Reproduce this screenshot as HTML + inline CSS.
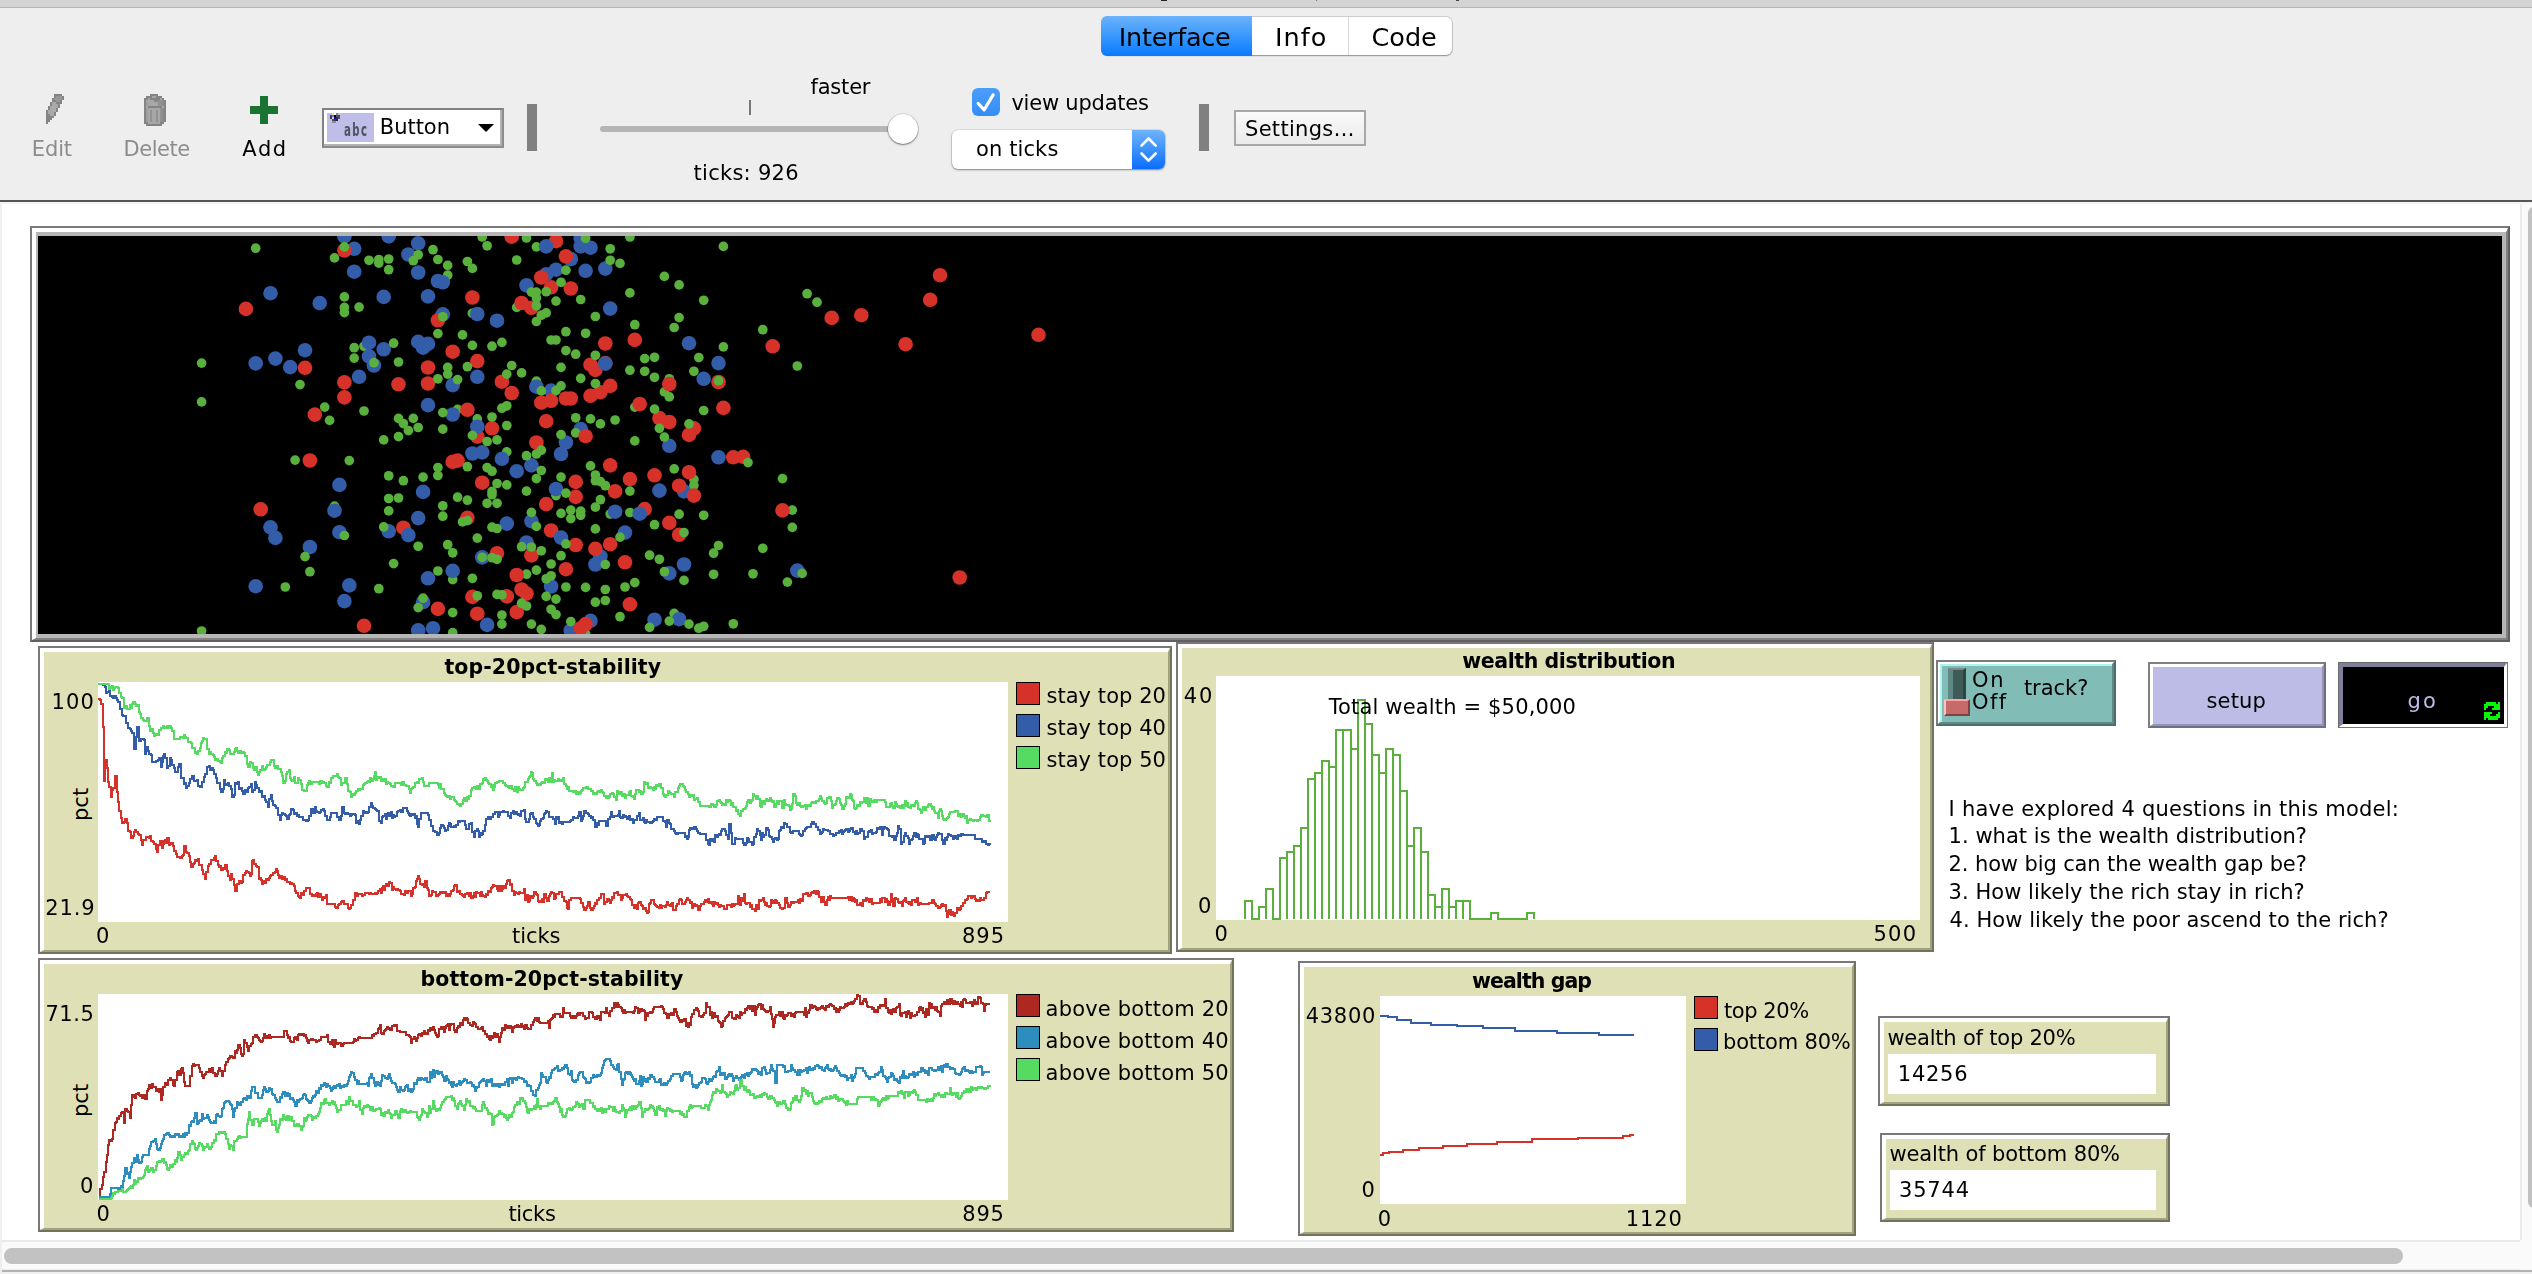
<!DOCTYPE html>
<html lang="en"><head><meta charset="utf-8"><title>Wealth distribution - NetLogo</title>
<style>
html,body{margin:0;padding:0;background:#fff;}
body{width:2532px;height:1274px;overflow:hidden;position:relative;font-family:"DejaVu Sans","Liberation Sans",sans-serif;}
.abs{position:absolute;box-sizing:border-box;}
.t{position:absolute;white-space:pre;line-height:0;font-size:21px;color:#000;}
.pw{border:2px solid;border-color:#787878 #73735a #73735a #787878;background:#e0e0b6;}
.pw .in{position:absolute;left:0;top:0;right:0;bottom:0;border-style:solid;border-width:4px 2px 2px 4px;border-color:#fff #a2a283 #a2a283 #fff;}
.lg{width:23.5px;height:23.5px;border:1.5px solid #000;}
.sep{background:#808080;width:10px;height:47px;top:104px;}
</style></head><body>
<!-- window chrome -->
<div class="abs" style="left:0;top:0;width:2532px;height:7px;background:#d3d3d3"></div>
<div class="abs" style="left:0;top:6.5px;width:2532px;height:1.5px;background:#b5b5b5"></div>
<div class="abs" style="left:0;top:8px;width:2532px;height:192px;background:#eeeeee"></div>
<div class="abs" style="left:0;top:200px;width:2532px;height:2px;background:#555"></div>
<div class="abs" style="left:0;top:202px;width:2532px;height:2px;background:#f4f4f4"></div>
<div class="abs" style="left:0;top:204px;width:2px;height:1070px;background:#efefef"></div>
<div class="abs" style="left:1161px;top:0;width:6px;height:1.2px;background:#222"></div><div class="abs" style="left:1315.5px;top:0;width:1.5px;height:1px;background:#777"></div><div class="abs" style="left:1456px;top:0;width:2.5px;height:1.2px;background:#444"></div>
<!-- tabs -->
<div class="abs" style="left:1101.5px;top:16.5px;width:350.5px;height:38.5px;border-radius:6px;background:#fff;box-shadow:0 1px 1.5px rgba(0,0,0,.3),0 0 0 1px rgba(0,0,0,.13)"></div>
<div class="abs" style="left:1101px;top:16px;width:151px;height:39.5px;border-radius:6px 0 0 6px;background:linear-gradient(#6cb3fa,#087bff)"></div>
<div class="abs" style="left:1347.5px;top:17px;width:1.5px;height:38px;background:#d9d9d9"></div>
<!-- toolbar icons -->
<svg class="abs" style="left:46px;top:94px" width="18" height="30" viewBox="0 0 9 15" shape-rendering="crispEdges"><rect x="4" y="0" width="4" height="1" fill="#848484"/><rect x="4" y="1" width="1" height="1" fill="#848484"/><rect x="5" y="1" width="3" height="1" fill="#979797"/><rect x="8" y="1" width="1" height="1" fill="#848484"/><rect x="3" y="2" width="1" height="1" fill="#848484"/><rect x="4" y="2" width="4" height="1" fill="#979797"/><rect x="8" y="2" width="1" height="1" fill="#848484"/><rect x="3" y="3" width="2" height="1" fill="#848484"/><rect x="5" y="3" width="2" height="1" fill="#979797"/><rect x="7" y="3" width="1" height="1" fill="#848484"/><rect x="2" y="4" width="1" height="1" fill="#848484"/><rect x="3" y="4" width="2" height="1" fill="#a9a9a9"/><rect x="5" y="4" width="3" height="1" fill="#848484"/><rect x="2" y="5" width="1" height="1" fill="#848484"/><rect x="3" y="5" width="3" height="1" fill="#a9a9a9"/><rect x="6" y="5" width="1" height="1" fill="#848484"/><rect x="1" y="6" width="1" height="1" fill="#848484"/><rect x="2" y="6" width="4" height="1" fill="#a9a9a9"/><rect x="6" y="6" width="1" height="1" fill="#848484"/><rect x="1" y="7" width="1" height="1" fill="#848484"/><rect x="2" y="7" width="3" height="1" fill="#a9a9a9"/><rect x="5" y="7" width="1" height="1" fill="#848484"/><rect x="0" y="8" width="1" height="1" fill="#848484"/><rect x="1" y="8" width="4" height="1" fill="#a9a9a9"/><rect x="5" y="8" width="1" height="1" fill="#848484"/><rect x="0" y="9" width="1" height="1" fill="#848484"/><rect x="1" y="9" width="3" height="1" fill="#a9a9a9"/><rect x="4" y="9" width="1" height="1" fill="#848484"/><rect x="0" y="10" width="2" height="1" fill="#848484"/><rect x="2" y="10" width="2" height="1" fill="#a9a9a9"/><rect x="4" y="10" width="1" height="1" fill="#848484"/><rect x="0" y="11" width="4" height="1" fill="#848484"/><rect x="0" y="12" width="3" height="1" fill="#848484"/><rect x="0" y="13" width="2" height="1" fill="#848484"/><rect x="0" y="14" width="1" height="1" fill="#848484"/></svg>
<svg class="abs" style="left:144px;top:94px" width="22" height="32" viewBox="0 0 11 16" shape-rendering="crispEdges"><rect x="3" y="0" width="4" height="1" fill="#848484"/><rect x="1" y="1" width="3" height="1" fill="#848484"/><rect x="4" y="1" width="2" height="1" fill="#a7a7a7"/><rect x="6" y="1" width="3" height="1" fill="#848484"/><rect x="0" y="2" width="2" height="1" fill="#848484"/><rect x="2" y="2" width="1" height="1" fill="#a7a7a7"/><rect x="3" y="2" width="5" height="1" fill="#848484"/><rect x="8" y="2" width="1" height="1" fill="#a7a7a7"/><rect x="9" y="2" width="1" height="1" fill="#848484"/><rect x="0" y="3" width="1" height="1" fill="#848484"/><rect x="1" y="3" width="4" height="1" fill="#a7a7a7"/><rect x="5" y="3" width="2" height="1" fill="#848484"/><rect x="7" y="3" width="2" height="1" fill="#929292"/><rect x="9" y="3" width="1" height="1" fill="#8c8c8c"/><rect x="10" y="3" width="1" height="1" fill="#848484"/><rect x="0" y="4" width="1" height="1" fill="#848484"/><rect x="1" y="4" width="1" height="1" fill="#9d9d9d"/><rect x="2" y="4" width="5" height="1" fill="#a7a7a7"/><rect x="7" y="4" width="2" height="1" fill="#929292"/><rect x="9" y="4" width="1" height="1" fill="#8c8c8c"/><rect x="10" y="4" width="1" height="1" fill="#848484"/><rect x="0" y="5" width="1" height="1" fill="#848484"/><rect x="1" y="5" width="1" height="1" fill="#9d9d9d"/><rect x="2" y="5" width="5" height="1" fill="#a7a7a7"/><rect x="7" y="5" width="2" height="1" fill="#929292"/><rect x="9" y="5" width="1" height="1" fill="#8c8c8c"/><rect x="10" y="5" width="1" height="1" fill="#848484"/><rect x="0" y="6" width="1" height="1" fill="#848484"/><rect x="1" y="6" width="1" height="1" fill="#a7a7a7"/><rect x="2" y="6" width="7" height="1" fill="#848484"/><rect x="9" y="6" width="1" height="1" fill="#a7a7a7"/><rect x="10" y="6" width="1" height="1" fill="#848484"/><rect x="0" y="7" width="1" height="1" fill="#848484"/><rect x="1" y="7" width="1" height="1" fill="#9d9d9d"/><rect x="2" y="7" width="6" height="1" fill="#a7a7a7"/><rect x="8" y="7" width="1" height="1" fill="#929292"/><rect x="9" y="7" width="1" height="1" fill="#8c8c8c"/><rect x="10" y="7" width="1" height="1" fill="#848484"/><rect x="0" y="8" width="1" height="1" fill="#848484"/><rect x="1" y="8" width="1" height="1" fill="#9d9d9d"/><rect x="2" y="8" width="1" height="1" fill="#a7a7a7"/><rect x="3" y="8" width="1" height="1" fill="#929292"/><rect x="4" y="8" width="2" height="1" fill="#a7a7a7"/><rect x="6" y="8" width="1" height="1" fill="#929292"/><rect x="7" y="8" width="1" height="1" fill="#a7a7a7"/><rect x="8" y="8" width="1" height="1" fill="#929292"/><rect x="9" y="8" width="1" height="1" fill="#8c8c8c"/><rect x="10" y="8" width="1" height="1" fill="#848484"/><rect x="0" y="9" width="1" height="1" fill="#848484"/><rect x="1" y="9" width="1" height="1" fill="#9d9d9d"/><rect x="2" y="9" width="1" height="1" fill="#a7a7a7"/><rect x="3" y="9" width="1" height="1" fill="#929292"/><rect x="4" y="9" width="2" height="1" fill="#a7a7a7"/><rect x="6" y="9" width="1" height="1" fill="#929292"/><rect x="7" y="9" width="1" height="1" fill="#a7a7a7"/><rect x="8" y="9" width="1" height="1" fill="#929292"/><rect x="9" y="9" width="1" height="1" fill="#8c8c8c"/><rect x="10" y="9" width="1" height="1" fill="#848484"/><rect x="0" y="10" width="1" height="1" fill="#848484"/><rect x="1" y="10" width="1" height="1" fill="#9d9d9d"/><rect x="2" y="10" width="1" height="1" fill="#a7a7a7"/><rect x="3" y="10" width="1" height="1" fill="#929292"/><rect x="4" y="10" width="2" height="1" fill="#a7a7a7"/><rect x="6" y="10" width="1" height="1" fill="#929292"/><rect x="7" y="10" width="1" height="1" fill="#a7a7a7"/><rect x="8" y="10" width="1" height="1" fill="#929292"/><rect x="9" y="10" width="1" height="1" fill="#8c8c8c"/><rect x="10" y="10" width="1" height="1" fill="#848484"/><rect x="0" y="11" width="1" height="1" fill="#848484"/><rect x="1" y="11" width="1" height="1" fill="#9d9d9d"/><rect x="2" y="11" width="1" height="1" fill="#a7a7a7"/><rect x="3" y="11" width="1" height="1" fill="#929292"/><rect x="4" y="11" width="2" height="1" fill="#a7a7a7"/><rect x="6" y="11" width="1" height="1" fill="#929292"/><rect x="7" y="11" width="1" height="1" fill="#a7a7a7"/><rect x="8" y="11" width="1" height="1" fill="#929292"/><rect x="9" y="11" width="1" height="1" fill="#8c8c8c"/><rect x="10" y="11" width="1" height="1" fill="#848484"/><rect x="0" y="12" width="1" height="1" fill="#848484"/><rect x="1" y="12" width="1" height="1" fill="#9d9d9d"/><rect x="2" y="12" width="1" height="1" fill="#a7a7a7"/><rect x="3" y="12" width="1" height="1" fill="#929292"/><rect x="4" y="12" width="2" height="1" fill="#a7a7a7"/><rect x="6" y="12" width="1" height="1" fill="#929292"/><rect x="7" y="12" width="1" height="1" fill="#a7a7a7"/><rect x="8" y="12" width="1" height="1" fill="#929292"/><rect x="9" y="12" width="1" height="1" fill="#8c8c8c"/><rect x="10" y="12" width="1" height="1" fill="#848484"/><rect x="0" y="13" width="1" height="1" fill="#848484"/><rect x="1" y="13" width="1" height="1" fill="#9d9d9d"/><rect x="2" y="13" width="1" height="1" fill="#a7a7a7"/><rect x="3" y="13" width="1" height="1" fill="#929292"/><rect x="4" y="13" width="2" height="1" fill="#a7a7a7"/><rect x="6" y="13" width="1" height="1" fill="#929292"/><rect x="7" y="13" width="1" height="1" fill="#a7a7a7"/><rect x="8" y="13" width="1" height="1" fill="#929292"/><rect x="9" y="13" width="1" height="1" fill="#8c8c8c"/><rect x="10" y="13" width="1" height="1" fill="#848484"/><rect x="0" y="14" width="2" height="1" fill="#848484"/><rect x="2" y="14" width="6" height="1" fill="#a7a7a7"/><rect x="8" y="14" width="2" height="1" fill="#848484"/><rect x="1" y="15" width="8" height="1" fill="#848484"/></svg>
<svg class="abs" style="left:250px;top:96px" width="28" height="28" viewBox="0 0 28 28"><path d="M10 0h8v10h10v8H18v10h-8V18H0v-8h10z" fill="#1a7431"/></svg>
<!-- widget chooser -->
<div class="abs" style="left:322px;top:108px;width:182px;height:40px;background:#fff;border:2px solid;border-color:#828282 #8c8c8c #8c8c8c #828282"><div class="abs" style="left:0;top:0;right:0;bottom:0;border:solid;border-width:0 2px 2px 0;border-color:#b4b4b4"></div></div>
<div class="abs" style="left:327px;top:113px;width:47px;height:29px;background:#bebee8"></div>
<svg class="abs" style="left:330px;top:113.3px" width="10" height="10" viewBox="0 0 5 5" shape-rendering="crispEdges"><rect x="1" y="0" width="1" height="1" fill="#d8d8c0"/><rect x="2" y="0" width="1" height="1" fill="#ffffff"/><rect x="3" y="0" width="1" height="1" fill="#8a8a78"/><rect x="0" y="1" width="1" height="1" fill="#4a4a38"/><rect x="1" y="1" width="1" height="1" fill="#6a7af0"/><rect x="2" y="1" width="1" height="1" fill="#000000"/><rect x="3" y="1" width="1" height="1" fill="#555560"/><rect x="4" y="1" width="1" height="1" fill="#4a4a55"/><rect x="0" y="2" width="1" height="1" fill="#3a3a2a"/><rect x="1" y="2" width="1" height="1" fill="#d0d0e8"/><rect x="2" y="2" width="1" height="1" fill="#0000c8"/><rect x="3" y="2" width="1" height="1" fill="#2a2a78"/><rect x="4" y="2" width="1" height="1" fill="#50505a"/><rect x="1" y="3" width="1" height="1" fill="#55553a"/><rect x="2" y="3" width="1" height="1" fill="#3a3a48"/><rect x="3" y="3" width="1" height="1" fill="#20206a"/><rect x="1" y="4" width="2" height="1" fill="#8a8aa0"/></svg>
<span class="t" style="left:343.6px;top:129.9px;font-size:17.5px;font-weight:bold;color:#50505f;letter-spacing:2.5px;transform:scaleX(.58);transform-origin:0 0;will-change:transform">abc</span>
<svg class="abs" style="left:478px;top:124px" width="16" height="8" viewBox="0 0 16 8"><path d="M0 0h16L8 8z" fill="#000"/></svg>
<div class="abs sep" style="left:527px"></div>
<div class="abs sep" style="left:1199px"></div>
<!-- speed slider -->
<div class="abs" style="left:600px;top:126px;width:292px;height:6px;background:#b5b5b5;border-radius:3px"></div>
<div class="abs" style="left:749px;top:100px;width:2px;height:14.5px;background:#787878"></div>
<div class="abs" style="left:888px;top:113.5px;width:30px;height:30px;border-radius:50%;background:#fff;box-shadow:0 1px 2px rgba(0,0,0,.45),0 0 0 .5px rgba(0,0,0,.2)"></div>
<!-- checkbox -->
<div class="abs" style="left:972px;top:88px;width:28px;height:28px;border-radius:6px;background:linear-gradient(#4b9ffa,#348cf6)"></div>
<svg class="abs" style="left:972px;top:88px" width="28" height="28" viewBox="0 0 28 28"><path d="M6.2 15.5l6 6.3 8.9-14.9" fill="none" stroke="#fff" stroke-width="3.2" stroke-linecap="round" stroke-linejoin="round"/></svg>
<!-- select -->
<div class="abs" style="left:952px;top:129.5px;width:213px;height:39px;border-radius:6px;background:#fff;box-shadow:0 1px 2px rgba(0,0,0,.4),0 0 0 .5px rgba(0,0,0,.15)"></div>
<div class="abs" style="left:1132px;top:129.5px;width:33px;height:39px;border-radius:0 6px 6px 0;background:linear-gradient(#6fb4fb,#0a6efd)"></div>
<svg class="abs" style="left:1132px;top:129.5px" width="33" height="39" viewBox="0 0 33 39"><path d="M9.5 15.7l7-7.2 7.2 7.2M9.5 23.5l7 7.2 7.2-7.2" fill="none" stroke="#fff" stroke-width="2.6" stroke-linecap="round" stroke-linejoin="round"/></svg>
<!-- settings -->
<div class="abs" style="left:1234px;top:110px;width:132px;height:36px;border:2px solid #a8a8a8;background:linear-gradient(#fafafa,#ebebeb)"></div>

<!-- view -->
<div class="abs" style="left:30px;top:226px;width:2480px;height:416px;background:#b6b6b6;border:2px solid;border-color:#7a7a7a #606060 #606060 #7a7a7a"></div>
<div class="abs" style="left:32px;top:228px;width:2476px;height:412px;border-style:solid;border-width:4px 2px 2px 4px;border-color:#fff #818181 #818181 #fff"></div>
<div class="abs" style="left:38px;top:236px;width:2464px;height:398px;background:#000"></div>
<svg class="abs" style="left:38px;top:236px" width="2464" height="398" viewBox="0 0 2464 398"><g fill="#d73229"><circle cx="567.3" cy="127.1" r="7.3"/></g><g fill="#345da9"><circle cx="316.2" cy="12.8" r="7.3"/><circle cx="532.8" cy="23.0" r="7.3"/><circle cx="508.2" cy="38.4" r="7.3"/><circle cx="518.0" cy="33.7" r="7.3"/><circle cx="404.8" cy="78.4" r="7.3"/><circle cx="513.1" cy="154.6" r="7.3"/><circle cx="542.7" cy="193.1" r="7.3"/><circle cx="562.4" cy="320.5" r="7.3"/><circle cx="552.5" cy="384.8" r="7.3"/><circle cx="532.8" cy="394.4" r="7.3"/><circle cx="646.0" cy="255.4" r="7.3"/></g><g fill="#59b03c"><circle cx="326.0" cy="110.2" r="4.85"/><circle cx="409.7" cy="39.2" r="4.85"/><circle cx="478.7" cy="71.4" r="4.85"/><circle cx="434.4" cy="77.3" r="4.85"/><circle cx="498.4" cy="145.2" r="4.85"/><circle cx="419.6" cy="173.4" r="4.85"/><circle cx="439.3" cy="182.9" r="4.85"/><circle cx="631.3" cy="142.8" r="4.85"/><circle cx="626.4" cy="155.9" r="4.85"/><circle cx="596.8" cy="171.1" r="4.85"/><circle cx="296.5" cy="270.1" r="4.85"/><circle cx="537.7" cy="196.9" r="4.85"/><circle cx="468.8" cy="215.9" r="4.85"/><circle cx="518.0" cy="259.6" r="4.85"/><circle cx="572.2" cy="278.0" r="4.85"/><circle cx="488.5" cy="338.2" r="4.85"/><circle cx="414.7" cy="343.6" r="4.85"/><circle cx="547.6" cy="397.7" r="4.85"/><circle cx="655.9" cy="243.4" r="4.85"/><circle cx="655.9" cy="249.4" r="4.85"/><circle cx="754.3" cy="274.1" r="4.85"/><circle cx="636.2" cy="377.4" r="4.85"/></g><g fill="#d73229"><circle cx="306.4" cy="14.5" r="7.3"/><circle cx="207.9" cy="72.9" r="7.3"/><circle cx="267.0" cy="131.8" r="7.3"/><circle cx="306.4" cy="146.4" r="7.3"/><circle cx="306.4" cy="161.4" r="7.3"/><circle cx="360.5" cy="148.3" r="7.3"/><circle cx="276.8" cy="178.6" r="7.3"/><circle cx="473.7" cy="0.7" r="7.3"/><circle cx="518.0" cy="5.1" r="7.3"/><circle cx="527.9" cy="20.3" r="7.3"/><circle cx="503.3" cy="41.5" r="7.3"/><circle cx="513.1" cy="51.3" r="7.3"/><circle cx="532.8" cy="52.5" r="7.3"/><circle cx="483.6" cy="67.0" r="7.3"/><circle cx="493.4" cy="71.8" r="7.3"/><circle cx="434.4" cy="61.5" r="7.3"/><circle cx="399.9" cy="84.3" r="7.3"/><circle cx="414.7" cy="115.7" r="7.3"/><circle cx="439.3" cy="125.1" r="7.3"/><circle cx="390.0" cy="131.5" r="7.3"/><circle cx="390.0" cy="147.5" r="7.3"/><circle cx="463.9" cy="145.7" r="7.3"/><circle cx="473.7" cy="157.0" r="7.3"/><circle cx="567.3" cy="107.5" r="7.3"/><circle cx="552.5" cy="128.7" r="7.3"/><circle cx="557.4" cy="133.9" r="7.3"/><circle cx="572.2" cy="149.9" r="7.3"/><circle cx="562.4" cy="156.2" r="7.3"/><circle cx="552.5" cy="159.8" r="7.3"/><circle cx="503.3" cy="166.7" r="7.3"/><circle cx="513.1" cy="164.8" r="7.3"/><circle cx="527.9" cy="162.5" r="7.3"/><circle cx="532.8" cy="162.5" r="7.3"/><circle cx="429.4" cy="173.8" r="7.3"/><circle cx="454.0" cy="192.3" r="7.3"/><circle cx="508.2" cy="185.2" r="7.3"/><circle cx="596.8" cy="103.9" r="7.3"/><circle cx="680.5" cy="146.0" r="7.3"/><circle cx="631.3" cy="148.0" r="7.3"/><circle cx="601.7" cy="168.0" r="7.3"/><circle cx="685.4" cy="171.9" r="7.3"/><circle cx="621.4" cy="182.1" r="7.3"/><circle cx="631.3" cy="186.0" r="7.3"/><circle cx="655.9" cy="192.3" r="7.3"/><circle cx="734.7" cy="110.3" r="7.3"/><circle cx="902.0" cy="39.2" r="7.3"/><circle cx="892.2" cy="63.8" r="7.3"/><circle cx="793.7" cy="81.9" r="7.3"/><circle cx="823.3" cy="79.2" r="7.3"/><circle cx="867.6" cy="108.2" r="7.3"/><circle cx="1000.5" cy="98.8" r="7.3"/><circle cx="271.9" cy="224.5" r="7.3"/><circle cx="222.7" cy="273.3" r="7.3"/><circle cx="365.4" cy="291.7" r="7.3"/><circle cx="326.0" cy="389.8" r="7.3"/><circle cx="439.3" cy="200.6" r="7.3"/><circle cx="547.6" cy="200.2" r="7.3"/><circle cx="498.4" cy="206.5" r="7.3"/><circle cx="414.7" cy="225.8" r="7.3"/><circle cx="419.6" cy="224.6" r="7.3"/><circle cx="572.2" cy="229.4" r="7.3"/><circle cx="537.7" cy="245.9" r="7.3"/><circle cx="444.2" cy="246.7" r="7.3"/><circle cx="537.7" cy="260.9" r="7.3"/><circle cx="577.1" cy="255.4" r="7.3"/><circle cx="508.2" cy="268.1" r="7.3"/><circle cx="429.4" cy="281.8" r="7.3"/><circle cx="513.1" cy="294.5" r="7.3"/><circle cx="537.7" cy="309.0" r="7.3"/><circle cx="572.2" cy="308.2" r="7.3"/><circle cx="557.4" cy="312.8" r="7.3"/><circle cx="493.4" cy="319.4" r="7.3"/><circle cx="459.0" cy="317.2" r="7.3"/><circle cx="527.9" cy="333.2" r="7.3"/><circle cx="478.7" cy="339.0" r="7.3"/><circle cx="483.6" cy="353.5" r="7.3"/><circle cx="488.5" cy="357.6" r="7.3"/><circle cx="434.4" cy="360.9" r="7.3"/><circle cx="468.8" cy="360.4" r="7.3"/><circle cx="399.9" cy="372.9" r="7.3"/><circle cx="439.3" cy="377.7" r="7.3"/><circle cx="478.7" cy="376.1" r="7.3"/><circle cx="547.6" cy="388.1" r="7.3"/><circle cx="542.7" cy="392.2" r="7.3"/><circle cx="651.0" cy="198.9" r="7.3"/><circle cx="695.3" cy="221.3" r="7.3"/><circle cx="705.1" cy="220.8" r="7.3"/><circle cx="651.0" cy="236.2" r="7.3"/><circle cx="616.5" cy="239.3" r="7.3"/><circle cx="591.9" cy="243.1" r="7.3"/><circle cx="641.1" cy="249.7" r="7.3"/><circle cx="655.9" cy="259.6" r="7.3"/><circle cx="606.7" cy="273.1" r="7.3"/><circle cx="631.3" cy="286.8" r="7.3"/><circle cx="641.1" cy="298.8" r="7.3"/><circle cx="744.5" cy="274.4" r="7.3"/><circle cx="587.0" cy="326.3" r="7.3"/><circle cx="591.9" cy="368.3" r="7.3"/><circle cx="921.7" cy="341.5" r="7.3"/></g><g fill="#345da9"><circle cx="306.4" cy="0.4" r="7.3"/><circle cx="350.7" cy="0.4" r="7.3"/><circle cx="316.2" cy="35.7" r="7.3"/><circle cx="232.5" cy="57.2" r="7.3"/><circle cx="281.7" cy="67.1" r="7.3"/><circle cx="345.7" cy="60.9" r="7.3"/><circle cx="331.0" cy="106.7" r="7.3"/><circle cx="345.7" cy="113.3" r="7.3"/><circle cx="331.0" cy="120.4" r="7.3"/><circle cx="335.9" cy="129.5" r="7.3"/><circle cx="267.0" cy="114.2" r="7.3"/><circle cx="237.4" cy="122.6" r="7.3"/><circle cx="217.7" cy="127.4" r="7.3"/><circle cx="252.2" cy="131.1" r="7.3"/><circle cx="321.1" cy="140.8" r="7.3"/><circle cx="380.2" cy="7.3" r="7.3"/><circle cx="370.4" cy="18.5" r="7.3"/><circle cx="380.2" cy="36.5" r="7.3"/><circle cx="399.9" cy="45.0" r="7.3"/><circle cx="404.8" cy="46.3" r="7.3"/><circle cx="542.7" cy="2.6" r="7.3"/><circle cx="542.7" cy="10.4" r="7.3"/><circle cx="552.5" cy="11.7" r="7.3"/><circle cx="567.3" cy="32.6" r="7.3"/><circle cx="547.6" cy="34.8" r="7.3"/><circle cx="488.5" cy="49.4" r="7.3"/><circle cx="572.2" cy="72.6" r="7.3"/><circle cx="390.0" cy="60.4" r="7.3"/><circle cx="439.3" cy="78.0" r="7.3"/><circle cx="459.0" cy="84.7" r="7.3"/><circle cx="380.2" cy="105.9" r="7.3"/><circle cx="390.0" cy="107.8" r="7.3"/><circle cx="385.1" cy="111.7" r="7.3"/><circle cx="439.3" cy="140.8" r="7.3"/><circle cx="414.7" cy="149.1" r="7.3"/><circle cx="567.3" cy="127.6" r="7.3"/><circle cx="498.4" cy="150.7" r="7.3"/><circle cx="390.0" cy="169.1" r="7.3"/><circle cx="414.7" cy="178.5" r="7.3"/><circle cx="439.3" cy="190.7" r="7.3"/><circle cx="651.0" cy="107.2" r="7.3"/><circle cx="680.5" cy="127.1" r="7.3"/><circle cx="665.7" cy="142.8" r="7.3"/><circle cx="301.4" cy="248.9" r="7.3"/><circle cx="296.5" cy="274.7" r="7.3"/><circle cx="232.5" cy="291.4" r="7.3"/><circle cx="237.4" cy="301.9" r="7.3"/><circle cx="301.4" cy="296.2" r="7.3"/><circle cx="350.7" cy="295.3" r="7.3"/><circle cx="271.9" cy="311.0" r="7.3"/><circle cx="217.7" cy="350.2" r="7.3"/><circle cx="311.3" cy="349.4" r="7.3"/><circle cx="306.4" cy="365.1" r="7.3"/><circle cx="527.9" cy="206.5" r="7.3"/><circle cx="523.0" cy="218.0" r="7.3"/><circle cx="463.9" cy="222.8" r="7.3"/><circle cx="434.4" cy="217.5" r="7.3"/><circle cx="444.2" cy="216.4" r="7.3"/><circle cx="478.7" cy="235.2" r="7.3"/><circle cx="493.4" cy="229.4" r="7.3"/><circle cx="518.0" cy="253.0" r="7.3"/><circle cx="385.1" cy="255.9" r="7.3"/><circle cx="577.1" cy="275.7" r="7.3"/><circle cx="493.4" cy="285.1" r="7.3"/><circle cx="380.2" cy="282.1" r="7.3"/><circle cx="468.8" cy="287.6" r="7.3"/><circle cx="523.0" cy="301.6" r="7.3"/><circle cx="488.5" cy="306.5" r="7.3"/><circle cx="444.2" cy="321.4" r="7.3"/><circle cx="557.4" cy="328.5" r="7.3"/><circle cx="414.7" cy="334.9" r="7.3"/><circle cx="390.0" cy="342.3" r="7.3"/><circle cx="513.1" cy="350.5" r="7.3"/><circle cx="385.1" cy="366.2" r="7.3"/><circle cx="449.1" cy="388.9" r="7.3"/><circle cx="380.2" cy="394.4" r="7.3"/><circle cx="395.0" cy="392.2" r="7.3"/><circle cx="631.3" cy="209.8" r="7.3"/><circle cx="680.5" cy="221.3" r="7.3"/><circle cx="621.4" cy="254.6" r="7.3"/><circle cx="587.0" cy="296.6" r="7.3"/><circle cx="646.0" cy="328.5" r="7.3"/><circle cx="631.3" cy="337.4" r="7.3"/><circle cx="759.3" cy="334.6" r="7.3"/><circle cx="616.5" cy="383.7" r="7.3"/><circle cx="641.1" cy="383.2" r="7.3"/></g><g fill="#59b03c"><circle cx="217.7" cy="12.2" r="4.85"/><circle cx="296.5" cy="21.9" r="4.85"/><circle cx="331.0" cy="24.3" r="4.85"/><circle cx="340.8" cy="23.5" r="4.85"/><circle cx="340.8" cy="27.1" r="4.85"/><circle cx="350.7" cy="23.0" r="4.85"/><circle cx="350.7" cy="33.7" r="4.85"/><circle cx="306.4" cy="60.9" r="4.85"/><circle cx="306.4" cy="71.4" r="4.85"/><circle cx="306.4" cy="76.6" r="4.85"/><circle cx="321.1" cy="71.1" r="4.85"/><circle cx="316.2" cy="111.7" r="4.85"/><circle cx="355.6" cy="107.2" r="4.85"/><circle cx="316.2" cy="122.1" r="4.85"/><circle cx="360.5" cy="126.0" r="4.85"/><circle cx="163.6" cy="127.1" r="4.85"/><circle cx="262.0" cy="148.6" r="4.85"/><circle cx="163.6" cy="165.9" r="4.85"/><circle cx="286.7" cy="171.1" r="4.85"/><circle cx="291.6" cy="184.4" r="4.85"/><circle cx="326.0" cy="175.0" r="4.85"/><circle cx="360.5" cy="182.4" r="4.85"/><circle cx="365.4" cy="187.6" r="4.85"/><circle cx="370.4" cy="194.6" r="4.85"/><circle cx="395.0" cy="13.7" r="4.85"/><circle cx="399.9" cy="23.5" r="4.85"/><circle cx="409.7" cy="29.4" r="4.85"/><circle cx="444.2" cy="1.0" r="4.85"/><circle cx="449.1" cy="9.8" r="4.85"/><circle cx="429.4" cy="25.5" r="4.85"/><circle cx="434.4" cy="32.4" r="4.85"/><circle cx="488.5" cy="2.0" r="4.85"/><circle cx="478.7" cy="24.0" r="4.85"/><circle cx="498.4" cy="10.9" r="4.85"/><circle cx="572.2" cy="12.8" r="4.85"/><circle cx="572.2" cy="24.3" r="4.85"/><circle cx="582.0" cy="27.4" r="4.85"/><circle cx="527.9" cy="34.2" r="4.85"/><circle cx="518.0" cy="65.1" r="4.85"/><circle cx="542.7" cy="63.5" r="4.85"/><circle cx="508.2" cy="76.9" r="4.85"/><circle cx="503.3" cy="79.2" r="4.85"/><circle cx="498.4" cy="85.5" r="4.85"/><circle cx="557.4" cy="80.5" r="4.85"/><circle cx="399.9" cy="97.6" r="4.85"/><circle cx="424.5" cy="98.9" r="4.85"/><circle cx="434.4" cy="109.4" r="4.85"/><circle cx="454.0" cy="110.2" r="4.85"/><circle cx="463.9" cy="106.4" r="4.85"/><circle cx="429.4" cy="130.7" r="4.85"/><circle cx="409.7" cy="131.4" r="4.85"/><circle cx="409.7" cy="138.1" r="4.85"/><circle cx="399.9" cy="142.8" r="4.85"/><circle cx="473.7" cy="129.5" r="4.85"/><circle cx="483.6" cy="136.9" r="4.85"/><circle cx="527.9" cy="95.7" r="4.85"/><circle cx="547.6" cy="97.3" r="4.85"/><circle cx="513.1" cy="104.0" r="4.85"/><circle cx="518.0" cy="104.0" r="4.85"/><circle cx="527.9" cy="114.6" r="4.85"/><circle cx="537.7" cy="118.2" r="4.85"/><circle cx="557.4" cy="119.3" r="4.85"/><circle cx="523.0" cy="131.4" r="4.85"/><circle cx="542.7" cy="142.4" r="4.85"/><circle cx="557.4" cy="147.5" r="4.85"/><circle cx="523.0" cy="149.9" r="4.85"/><circle cx="518.0" cy="154.6" r="4.85"/><circle cx="404.8" cy="176.6" r="4.85"/><circle cx="468.8" cy="169.8" r="4.85"/><circle cx="463.9" cy="172.2" r="4.85"/><circle cx="375.3" cy="182.4" r="4.85"/><circle cx="380.2" cy="191.5" r="4.85"/><circle cx="404.8" cy="193.1" r="4.85"/><circle cx="454.0" cy="181.0" r="4.85"/><circle cx="468.8" cy="189.5" r="4.85"/><circle cx="537.7" cy="181.8" r="4.85"/><circle cx="552.5" cy="182.9" r="4.85"/><circle cx="562.4" cy="187.9" r="4.85"/><circle cx="577.1" cy="184.0" r="4.85"/><circle cx="591.9" cy="1.0" r="4.85"/><circle cx="626.4" cy="40.4" r="4.85"/><circle cx="641.1" cy="48.9" r="4.85"/><circle cx="591.9" cy="56.9" r="4.85"/><circle cx="665.7" cy="64.3" r="4.85"/><circle cx="685.4" cy="10.4" r="4.85"/><circle cx="641.1" cy="81.6" r="4.85"/><circle cx="636.2" cy="91.5" r="4.85"/><circle cx="596.8" cy="88.7" r="4.85"/><circle cx="685.4" cy="110.9" r="4.85"/><circle cx="606.7" cy="122.6" r="4.85"/><circle cx="616.5" cy="121.3" r="4.85"/><circle cx="660.8" cy="121.6" r="4.85"/><circle cx="591.9" cy="134.2" r="4.85"/><circle cx="606.7" cy="135.3" r="4.85"/><circle cx="616.5" cy="141.3" r="4.85"/><circle cx="655.9" cy="135.3" r="4.85"/><circle cx="631.3" cy="160.9" r="4.85"/><circle cx="616.5" cy="173.1" r="4.85"/><circle cx="665.7" cy="174.5" r="4.85"/><circle cx="621.4" cy="192.3" r="4.85"/><circle cx="769.1" cy="57.7" r="4.85"/><circle cx="779.0" cy="66.2" r="4.85"/><circle cx="724.8" cy="93.7" r="4.85"/><circle cx="759.3" cy="130.0" r="4.85"/><circle cx="360.5" cy="200.6" r="4.85"/><circle cx="345.7" cy="203.9" r="4.85"/><circle cx="257.1" cy="224.1" r="4.85"/><circle cx="311.3" cy="224.6" r="4.85"/><circle cx="350.7" cy="239.8" r="4.85"/><circle cx="365.4" cy="244.7" r="4.85"/><circle cx="350.7" cy="262.5" r="4.85"/><circle cx="360.5" cy="262.0" r="4.85"/><circle cx="350.7" cy="274.9" r="4.85"/><circle cx="271.9" cy="335.7" r="4.85"/><circle cx="355.6" cy="327.6" r="4.85"/><circle cx="247.3" cy="351.0" r="4.85"/><circle cx="340.8" cy="352.7" r="4.85"/><circle cx="163.6" cy="395.0" r="4.85"/><circle cx="449.1" cy="205.5" r="4.85"/><circle cx="459.0" cy="203.9" r="4.85"/><circle cx="523.0" cy="198.6" r="4.85"/><circle cx="488.5" cy="219.7" r="4.85"/><circle cx="429.4" cy="230.7" r="4.85"/><circle cx="399.9" cy="231.6" r="4.85"/><circle cx="399.9" cy="239.5" r="4.85"/><circle cx="385.1" cy="241.1" r="4.85"/><circle cx="449.1" cy="231.6" r="4.85"/><circle cx="454.0" cy="235.2" r="4.85"/><circle cx="503.3" cy="234.5" r="4.85"/><circle cx="498.4" cy="242.6" r="4.85"/><circle cx="523.0" cy="241.1" r="4.85"/><circle cx="552.5" cy="229.9" r="4.85"/><circle cx="557.4" cy="239.0" r="4.85"/><circle cx="557.4" cy="244.7" r="4.85"/><circle cx="562.4" cy="245.6" r="4.85"/><circle cx="567.3" cy="249.7" r="4.85"/><circle cx="459.0" cy="247.5" r="4.85"/><circle cx="468.8" cy="248.9" r="4.85"/><circle cx="454.0" cy="255.4" r="4.85"/><circle cx="454.0" cy="258.7" r="4.85"/><circle cx="449.1" cy="267.3" r="4.85"/><circle cx="459.0" cy="267.3" r="4.85"/><circle cx="488.5" cy="255.1" r="4.85"/><circle cx="419.6" cy="261.2" r="4.85"/><circle cx="429.4" cy="264.2" r="4.85"/><circle cx="404.8" cy="269.8" r="4.85"/><circle cx="404.8" cy="280.2" r="4.85"/><circle cx="562.4" cy="263.7" r="4.85"/><circle cx="557.4" cy="271.1" r="4.85"/><circle cx="523.0" cy="277.4" r="4.85"/><circle cx="532.8" cy="274.1" r="4.85"/><circle cx="532.8" cy="282.6" r="4.85"/><circle cx="542.7" cy="275.2" r="4.85"/><circle cx="542.7" cy="279.3" r="4.85"/><circle cx="454.0" cy="291.2" r="4.85"/><circle cx="459.0" cy="292.5" r="4.85"/><circle cx="439.3" cy="302.1" r="4.85"/><circle cx="557.4" cy="292.9" r="4.85"/><circle cx="380.2" cy="310.3" r="4.85"/><circle cx="409.7" cy="308.7" r="4.85"/><circle cx="414.7" cy="316.8" r="4.85"/><circle cx="503.3" cy="314.8" r="4.85"/><circle cx="523.0" cy="319.7" r="4.85"/><circle cx="513.1" cy="328.0" r="4.85"/><circle cx="498.4" cy="334.1" r="4.85"/><circle cx="399.9" cy="335.0" r="4.85"/><circle cx="434.4" cy="342.3" r="4.85"/><circle cx="513.1" cy="339.8" r="4.85"/><circle cx="508.2" cy="342.8" r="4.85"/><circle cx="527.9" cy="351.0" r="4.85"/><circle cx="547.6" cy="351.4" r="4.85"/><circle cx="567.3" cy="353.5" r="4.85"/><circle cx="508.2" cy="360.4" r="4.85"/><circle cx="518.0" cy="363.1" r="4.85"/><circle cx="557.4" cy="366.2" r="4.85"/><circle cx="567.3" cy="364.5" r="4.85"/><circle cx="414.7" cy="376.6" r="4.85"/><circle cx="463.9" cy="379.0" r="4.85"/><circle cx="463.9" cy="388.1" r="4.85"/><circle cx="513.1" cy="373.3" r="4.85"/><circle cx="518.0" cy="378.6" r="4.85"/><circle cx="414.7" cy="396.7" r="4.85"/><circle cx="493.4" cy="388.1" r="4.85"/><circle cx="503.3" cy="393.4" r="4.85"/><circle cx="532.8" cy="385.6" r="4.85"/><circle cx="626.4" cy="201.1" r="4.85"/><circle cx="596.8" cy="204.9" r="4.85"/><circle cx="636.2" cy="232.9" r="4.85"/><circle cx="591.9" cy="255.1" r="4.85"/><circle cx="744.5" cy="242.6" r="4.85"/><circle cx="591.9" cy="276.5" r="4.85"/><circle cx="641.1" cy="278.2" r="4.85"/><circle cx="665.7" cy="279.3" r="4.85"/><circle cx="616.5" cy="288.7" r="4.85"/><circle cx="754.3" cy="291.4" r="4.85"/><circle cx="680.5" cy="309.5" r="4.85"/><circle cx="675.6" cy="317.2" r="4.85"/><circle cx="724.8" cy="312.3" r="4.85"/><circle cx="611.6" cy="319.2" r="4.85"/><circle cx="621.4" cy="323.3" r="4.85"/><circle cx="646.0" cy="344.4" r="4.85"/><circle cx="675.6" cy="338.3" r="4.85"/><circle cx="715.0" cy="337.8" r="4.85"/><circle cx="749.4" cy="346.1" r="4.85"/><circle cx="596.8" cy="346.6" r="4.85"/><circle cx="587.0" cy="351.0" r="4.85"/><circle cx="582.0" cy="380.7" r="4.85"/><circle cx="651.0" cy="388.1" r="4.85"/><circle cx="660.8" cy="392.2" r="4.85"/><circle cx="665.7" cy="390.3" r="4.85"/><circle cx="695.3" cy="387.8" r="4.85"/></g><g fill="#345da9"><circle cx="508.2" cy="10.4" r="7.3"/><circle cx="370.4" cy="299.1" r="7.3"/><circle cx="601.7" cy="277.7" r="7.3"/></g><g fill="#59b03c"><circle cx="306.4" cy="10.9" r="4.85"/><circle cx="335.9" cy="126.7" r="4.85"/><circle cx="380.2" cy="18.8" r="4.85"/><circle cx="375.3" cy="24.7" r="4.85"/><circle cx="547.6" cy="2.3" r="4.85"/><circle cx="523.0" cy="46.3" r="4.85"/><circle cx="493.4" cy="56.1" r="4.85"/><circle cx="498.4" cy="56.1" r="4.85"/><circle cx="498.4" cy="62.0" r="4.85"/><circle cx="508.2" cy="55.7" r="4.85"/><circle cx="498.4" cy="69.8" r="4.85"/><circle cx="404.8" cy="80.8" r="4.85"/><circle cx="419.6" cy="143.6" r="4.85"/><circle cx="468.8" cy="138.1" r="4.85"/><circle cx="503.3" cy="154.9" r="4.85"/><circle cx="680.5" cy="144.7" r="4.85"/><circle cx="651.0" cy="187.9" r="4.85"/><circle cx="306.4" cy="299.5" r="4.85"/><circle cx="345.7" cy="290.9" r="4.85"/><circle cx="267.0" cy="320.6" r="4.85"/><circle cx="434.4" cy="199.4" r="4.85"/><circle cx="503.3" cy="214.2" r="4.85"/><circle cx="498.4" cy="218.0" r="4.85"/><circle cx="527.9" cy="257.1" r="4.85"/><circle cx="493.4" cy="276.4" r="4.85"/><circle cx="498.4" cy="290.4" r="4.85"/><circle cx="424.5" cy="285.9" r="4.85"/><circle cx="429.4" cy="284.6" r="4.85"/><circle cx="527.9" cy="307.9" r="4.85"/><circle cx="483.6" cy="310.7" r="4.85"/><circle cx="493.4" cy="311.0" r="4.85"/><circle cx="454.0" cy="321.7" r="4.85"/><circle cx="459.0" cy="323.3" r="4.85"/><circle cx="444.2" cy="321.4" r="4.85"/><circle cx="567.3" cy="328.5" r="4.85"/><circle cx="439.3" cy="359.8" r="4.85"/><circle cx="459.0" cy="358.4" r="4.85"/><circle cx="463.9" cy="358.9" r="4.85"/><circle cx="385.1" cy="362.2" r="4.85"/><circle cx="380.2" cy="371.6" r="4.85"/><circle cx="483.6" cy="367.2" r="4.85"/><circle cx="488.5" cy="370.0" r="4.85"/><circle cx="710.0" cy="226.6" r="4.85"/><circle cx="646.0" cy="296.6" r="4.85"/><circle cx="582.0" cy="301.1" r="4.85"/><circle cx="626.4" cy="335.7" r="4.85"/><circle cx="764.2" cy="337.4" r="4.85"/><circle cx="611.6" cy="391.4" r="4.85"/><circle cx="631.3" cy="385.1" r="4.85"/></g></svg>

<!-- plot: top-20pct-stability -->
<div class="abs pw" style="left:38px;top:646px;width:1134px;height:308px"><div class="in"></div></div>
<svg class="abs" style="left:98px;top:682px;background:#fff" width="910" height="240" viewBox="0 0 910 240" shape-rendering="crispEdges"><path d="M0.2 16.6H1.5V18.1H2.8V21.5H4.8V45.0H5.7V99.0H7.3V78.4H8.5V86.3H9.7V99.9H11.1V105.0H12.6V114.7H13.9V107.8H15.2V105.8H17.1V94.1H19.1V109.8H20.3V120.0H21.4V129.4H22.9V135.6H24.4V141.1H25.8V139.9H27.3V137.2H28.8V140.8H30.3V149.0H31.7V150.1H33.2V155.9H34.5V153.5H35.8V150.2H37.1V148.0H38.4V150.0H39.7V152.2H41.0V152.9H42.5V158.2H44.0V162.7H45.3V158.0H46.6V157.8H47.9V154.9H49.2V154.5H50.5V155.7H51.8V153.9H53.3V159.0H54.8V159.8H56.3V161.9H57.7V166.7H59.0V169.6H60.3V163.4H61.6V158.8H63.6V165.7H64.7V162.0H65.8V158.5H66.9V157.8H68.1V160.8H69.3V156.2H70.5V162.7H71.9V162.1H73.4V160.8H74.9V163.7H76.4V168.6H77.8V172.0H79.3V174.5H80.8V174.8H82.2V175.5H83.6V173.9H84.9V172.9H86.2V163.7H87.6V169.7H89.1V170.6H90.6V174.4H92.1V180.4H93.4V185.2H94.7V181.6H96.0V181.4H97.3V178.3H98.6V179.3H99.9V176.5H101.2V182.6H102.5V182.6H103.8V188.2H105.3V191.5H106.8V197.1H108.2V190.3H109.7V184.3H111.2V182.4H112.7V178.4H114.1V177.9H115.6V175.5H116.9V173.5H118.2V179.3H119.5V183.3H120.8V185.4H122.1V184.0H123.4V188.2H124.8V185.9H126.1V187.3H127.4V183.3H128.8V188.8H130.3V194.1H131.8V197.7H133.3V192.2H134.4V197.2H135.6V202.8H136.8V208.8H137.9V209.1H139.0V202.2H140.1V202.0H141.4V199.2H142.7V200.8H144.1V200.0H145.4V192.7H146.7V191.0H148.0V189.2H149.3V190.1H150.6V190.5H151.9V194.1H153.0V191.5H154.1V178.8H155.2V178.4H156.4V182.0H157.6V184.0H158.8V185.3H160.7V197.1H161.9V196.3H163.1V197.9H164.3V201.6H165.4V199.1H166.6V201.0H167.9V197.2H169.2V197.8H170.5V196.1H171.8V193.7H173.2V193.0H174.5V191.2H175.6V190.6H176.8V190.1H178.0V187.3H179.1V188.6H180.2V192.6H181.3V196.1H182.6V194.2H183.9V196.6H185.3V195.1H186.6V198.2H187.9V196.8H189.2V200.0H190.4V199.7H191.6V202.1H192.9V200.8H194.1V202.0H195.6V203.8H197.0V208.8H198.2V211.2H199.5V214.0H200.7V214.8H201.9V215.7H203.2V211.3H204.5V213.3H205.9V208.8H207.1V209.4H208.3V205.7H209.5V205.8H210.8V205.9H212.2V212.3H213.7V213.7H215.0V212.6H216.3V213.6H217.6V211.8H218.8V210.6H220.1V215.4H221.3V212.1H222.5V214.7H223.8V217.5H225.1V214.6H226.5V215.7H227.9V212.6H229.4V221.6H230.6V221.6H231.7V221.6H232.9V221.6H234.1V221.6H235.3V221.6H236.5V225.1H237.6V226.1H238.8V225.5H239.9V222.6H240.9V221.7H242.0V221.8H243.0V219.6H244.1V218.6H245.6V222.2H247.1V221.6H248.3V222.3H249.5V225.6H250.7V226.7H252.0V225.5H253.3V223.1H254.6V217.8H255.9V217.7H257.2V211.0H258.5V213.6H259.8V211.8H261.0V212.3H262.3V212.4H263.5V214.0H264.7V212.8H265.9V212.6H267.2V210.6H268.4V211.3H269.6V210.8H270.8V212.4H272.1V211.0H273.3V211.6H274.5V211.8H275.7V212.2H276.9V210.8H278.1V212.3H279.2V211.4H280.4V208.8H281.6V207.4H282.8V210.7H283.9V206.4H285.1V204.0H286.3V207.9H287.4V204.4H288.4V202.0H289.5V204.3H290.6V200.0H291.7V200.5H292.9V200.6H294.0V208.0H295.1V204.9H296.3V206.5H297.6V207.5H298.8V206.6H300.0V207.9H302.0V208.8H303.3V212.0H304.6V211.7H305.9V212.8H307.2V208.9H308.5V210.8H309.8V208.8H311.3V209.0H312.8V213.7H314.1V212.3H315.4V205.8H316.7V204.9H317.8V198.9H318.9V196.5H320.0V194.1H321.2V196.7H322.4V201.7H323.6V202.9H324.8V201.9H326.0V204.8H327.3V199.2H328.5V205.9H330.0V207.6H331.4V213.7H332.7V213.1H334.0V209.0H335.4V209.8H336.8V209.5H338.3V213.7H339.5V212.5H340.7V212.1H342.0V209.6H343.2V209.8H344.4V210.9H345.7V209.7H346.9V210.4H348.1V213.7H349.4V212.1H350.7V213.8H352.0V211.8H353.3V209.2H354.6V208.4H356.0V203.9H357.3V203.1H358.6V209.7H359.9V208.8H361.1V208.7H362.3V212.1H363.6V213.3H364.8V213.7H366.0V215.3H367.2V211.8H368.5V210.9H369.7V211.8H370.9V214.3H372.1V210.9H373.4V215.8H374.6V213.7H375.8V210.6H376.9V214.5H378.1V209.7H379.3V210.8H380.5V210.8H381.7V214.0H382.9V210.3H384.2V212.7H385.4V213.7H386.6V214.9H387.8V211.5H389.1V212.5H390.3V208.8H391.5V209.9H392.6V205.7H393.8V204.6H395.0V202.8H396.2V203.9H397.5V203.7H398.8V206.6H400.1V208.8H401.4V204.4H402.7V208.6H404.0V206.9H405.2V204.3H406.5V205.5H407.7V202.2H408.9V199.0H410.2V197.6H411.5V203.0H412.8V202.0H414.3V208.6H415.8V212.8H417.0V210.1H418.2V211.3H419.5V212.1H420.7V209.8H422.0V210.6H423.3V211.4H424.6V210.8H425.8V207.2H427.1V217.6H428.3V212.8H429.5V219.6H430.8V219.3H432.1V214.4H433.4V215.7H434.9V214.0H436.4V209.8H437.6V212.4H438.8V212.5H440.1V219.1H441.3V219.6H442.5V219.0H443.8V216.5H445.0V220.3H446.2V211.8H447.7V215.8H449.1V218.6H450.5V213.5H451.8V211.5H453.1V209.8H454.4V210.8H455.7V216.6H457.0V215.7H458.3V211.7H459.6V211.7H460.9V209.8H462.2V210.3H463.5V214.5H464.8V214.7H466.1V218.6H467.5V219.8H468.8V225.5H470.1V226.6H471.4V218.4H472.7V215.7H473.8V215.7H474.9V215.7H476.1V215.7H477.2V215.7H478.3V215.7H479.4V215.7H480.5V215.7H481.7V217.4H482.9V220.5H484.1V220.9H485.2V225.2H486.4V227.5H487.7V225.9H489.0V224.3H490.3V219.6H491.8V225.6H493.3V227.5H494.5V225.5H495.7V224.1H497.0V221.1H498.2V221.6H499.4V218.2H500.6V216.2H501.9V215.9H503.1V211.8H504.3V211.5H505.6V222.4H506.8V219.5H508.0V219.6H509.2V216.8H510.5V219.3H511.7V220.6H512.9V217.7H514.1V215.1H515.3V216.0H516.4V210.5H517.6V210.9H518.8V209.8H520.1V212.7H521.4V212.9H522.7V217.7H523.9V215.7H525.2V212.8H526.4V213.2H527.6V211.8H528.9V213.7H530.2V214.6H531.5V216.7H532.9V218.4H534.2V223.4H535.5V225.5H536.6V223.0H537.8V224.0H539.0V226.9H540.2V220.6H541.4V219.6H542.7V223.3H544.0V224.4H545.3V226.5H546.5V226.4H547.6V228.8H548.8V231.4H549.9V229.6H551.0V222.0H552.0V220.5H553.1V217.7H554.4V217.8H555.7V222.2H557.1V222.6H558.2V223.5H559.4V224.7H560.6V225.8H561.8V222.8H562.9V225.5H564.2V224.2H565.4V223.7H566.6V224.9H567.8V222.6H569.1V220.4H570.3V223.4H571.5V224.3H572.7V221.6H574.1V221.3H575.4V227.7H576.7V227.5H578.0V224.0H579.3V222.4H580.6V217.7H581.8V216.8H583.0V217.6H584.3V221.6H585.5V221.6H586.7V220.2H588.0V217.7H589.2V216.2H590.4V217.7H591.6V221.0H592.9V219.8H594.1V226.0H595.3V221.6H596.5V223.5H597.8V223.1H599.0V223.5H600.2V227.5H602.0V223.5H603.2V222.2H604.4V221.9H605.5V219.9H606.7V217.5H607.9V217.7H609.1V219.5H610.2V216.7H611.4V220.9H612.6V219.5H613.8V221.6H614.9V224.0H616.1V219.6H617.3V221.8H618.5V220.8H619.7V222.6H620.8V224.6H622.0V222.6H623.2V223.9H624.4V224.3H625.5V226.5H626.7V227.1H627.9V227.3H629.1V222.5H630.3V222.9H631.4V222.6H632.6V224.7H633.8V221.6H635.0V224.4H636.1V223.3H637.3V221.6H638.5V221.5H639.7V213.7H640.8V216.4H642.0V223.2H643.2V215.7H644.4V219.2H645.6V212.1H646.7V221.0H647.9V222.0H649.1V220.6H650.3V221.3H651.5V225.2H652.8V222.7H654.0V226.5H655.5V226.8H656.9V228.5H658.2V223.3H659.6V226.6H660.9V217.7H662.1V218.8H663.3V218.0H664.5V216.0H665.8V219.6H667.0V222.9H668.2V220.9H669.4V223.9H670.7V224.5H671.8V224.3H673.0V218.0H674.2V219.0H675.4V221.4H676.6V217.7H677.9V218.7H679.2V220.6H680.5V222.6H681.7V225.5H682.9V225.6H684.2V226.5H685.4V225.5H687.3V215.7H688.8V220.7H690.3V224.5H691.5V222.6H692.6V220.4H693.8V219.8H695.0V221.4H696.2V219.6H697.4V220.1H698.6V219.7H699.9V218.1H701.1V220.6H702.3V216.9H703.5V218.7H704.8V212.3H706.0V211.8H707.2V211.8H708.3V210.8H709.5V213.8H710.7V214.0H711.9V212.8H713.0V211.0H714.2V210.2H715.3V210.5H716.4V208.8H717.6V211.6H718.7V208.8H720.0V210.2H721.4V214.7H722.7V219.6H723.8V220.0H725.0V214.7H726.2V220.1H727.4V223.4H728.5V217.7H729.8V214.8H731.0V218.4H732.2V214.0H733.4V215.7H734.6V215.7H735.7V215.7H736.8V215.7H737.9V215.7H739.1V215.7H740.2V215.7H741.3V215.7H742.4V215.7H743.5V215.7H744.7V215.7H745.8V215.7H746.9V215.7H748.0V215.7H749.1V215.7H750.3V214.6H751.4V218.3H752.5V214.8H753.6V219.0H754.8V216.1H755.9V216.7H757.0V219.6H758.2V217.8H759.3V223.0H760.5V223.0H761.7V221.3H762.9V222.6H764.1V223.5H765.2V218.3H766.4V219.1H767.6V215.7H768.8V217.7H769.9V217.1H771.1V219.7H772.3V217.1H773.5V222.0H774.7V220.6H775.8V220.6H777.0V220.6H778.2V220.6H779.4V220.6H780.5V220.6H781.8V216.9H783.0V219.7H784.2V216.4H785.4V215.7H786.7V219.7H787.9V217.3H789.1V218.7H790.3V222.6H791.7V219.9H793.0V212.3H794.3V216.7H795.4V224.1H796.6V216.1H797.8V216.7H799.0V216.8H800.2V219.6H801.3V220.5H802.5V220.4H803.7V223.6H804.9V218.6H806.0V217.7H807.2V216.3H808.3V220.3H809.5V220.8H810.6V221.6H811.8V220.2H812.9V222.6H814.1V218.0H815.4V218.2H816.6V220.1H817.8V217.7H819.0V216.1H820.2V223.4H821.3V220.5H822.5V221.5H823.7V221.6H824.9V221.6H826.1V221.6H827.2V221.6H828.4V221.6H829.6V221.6H830.8V221.0H831.9V220.8H833.1V220.7H834.3V218.3H835.5V220.6H836.7V221.8H837.9V224.4H839.1V224.1H840.4V225.5H841.6V224.9H842.8V222.6H844.1V221.9H845.3V223.5H846.5V223.1H847.7V229.2H849.0V234.7H850.2V232.4H851.3V228.2H852.5V233.3H853.6V230.3H854.8V231.7H855.9V233.7H857.1V231.4H858.2V231.3H859.4V226.0H860.6V228.0H861.8V227.2H862.9V223.5H864.2V223.7H865.4V220.6H866.6V217.6H867.8V217.7H869.0V217.1H870.2V214.1H871.4V214.1H872.6V216.2H873.7V214.7H874.9V213.6H876.0V214.0H877.2V217.4H878.3V219.3H879.5V218.4H880.6V218.6H881.8V215.9H883.0V217.8H884.3V218.0H885.5V215.7H886.8V216.3H888.1V211.0H889.4V209.8H890.7V209.8H892.0V209.8" fill="none" stroke="#d73229" stroke-width="2" stroke-linejoin="miter"/><path d="M3.8 1.8H5.2V3.0H6.7V4.8H8.0V10.8H9.3V9.8H10.6V8.7H12.1V13.9H13.6V14.6H14.9V16.1H16.2V13.8H17.5V15.6H19.0V18.2H20.4V19.5H22.4V27.4H23.9V33.3H25.4V34.2H26.8V34.2H28.3V41.1H30.3V46.0H31.6V46.6H32.9V49.4H34.2V50.9H36.1V66.6H37.6V54.8H39.1V45.0H41.0V58.7H42.5V57.1H44.0V56.8H45.5V57.7H46.9V71.5H48.4V64.7H49.9V68.6H51.3V72.0H52.8V72.5H54.3V79.5H55.8V80.3H57.1V80.1H58.4V79.1H59.7V78.4H61.2V76.0H62.6V85.2H63.8V80.2H65.0V73.8H66.2V71.5H67.3V76.3H68.5V86.2H70.0V83.6H71.5V76.4H72.9V78.3H74.4V83.3H75.7V85.6H77.0V89.5H78.3V90.1H79.8V85.2H81.3V82.3H83.2V96.0H84.5V96.1H85.7V102.4H86.9V100.8H88.1V105.8H89.4V104.2H90.8V101.2H92.1V97.0H93.5V94.1H95.0V94.1H96.3V99.1H97.6V98.9H98.9V98.0H100.2V103.6H101.5V104.7H102.8V104.8H104.2V99.5H105.5V95.4H106.8V92.1H108.1V91.6H109.4V85.3H110.7V84.2H112.0V87.7H113.3V86.3H114.6V88.2H116.1V91.5H117.6V96.0H119.0V100.7H120.5V100.9H122.0V107.1H123.4V109.8H124.8V107.3H126.1V98.4H127.4V102.9H128.7V102.2H130.0V101.2H131.3V103.9H132.8V106.8H134.2V114.7H135.5V112.6H136.9V101.4H138.2V101.9H139.6V100.4H141.1V106.8H142.3V105.8H143.6V108.6H144.8V112.2H146.0V111.7H147.3V107.5H148.6V109.9H149.9V105.8H151.2V105.1H152.6V101.5H153.9V109.8H155.2V108.1H156.5V99.7H157.8V102.9H159.3V105.5H160.7V109.8H162.0V110.0H163.2V109.4H164.4V114.8H165.6V113.7H166.9V118.1H168.2V120.4H169.6V125.4H171.0V117.0H172.5V112.7H174.0V118.7H175.4V122.5H176.7V123.7H177.9V125.8H179.1V125.5H180.3V133.3H181.6V138.3H182.8V132.8H184.0V130.9H185.3V132.3H186.6V133.2H187.9V134.3H189.2V137.2H190.5V132.8H191.8V131.7H193.1V127.4H194.6V127.8H196.0V132.3H197.3V130.5H198.7V134.0H200.0V133.3H201.2V135.2H202.4V135.2H203.6V135.4H204.9V138.2H206.2V137.5H207.5V139.1H208.8V139.2H210.1V137.8H211.4V133.6H212.7V127.4H214.0V127.2H215.3V130.7H216.6V125.4H217.9V129.3H219.3V129.7H220.6V131.3H221.9V129.8H223.2V127.5H224.5V127.4H225.7V129.2H226.9V133.8H228.2V134.3H229.4V138.2H230.7V137.6H232.0V134.8H233.3V131.3H234.6V131.3H235.9V131.3H237.2V131.3H238.6V134.8H239.9V135.1H241.2V138.2H242.6V134.2H244.1V125.4H245.6V131.2H247.1V132.3H248.3V131.1H249.5V131.7H250.7V132.0H252.0V134.3H253.2V133.0H254.4V131.8H255.6V132.4H256.9V133.3H258.2V140.6H259.5V139.2H260.8V142.1H262.1V137.7H263.4V134.2H264.7V129.4H266.0V131.3H267.3V130.3H268.6V131.3H269.7V129.9H270.8V124.5H271.9V125.2H272.9V120.5H274.1V123.9H275.3V126.1H276.5V127.4H278.0V128.2H279.4V129.4H281.4V139.2H282.7V141.4H284.0V135.4H285.3V134.3H286.5V131.8H287.8V136.8H289.0V132.9H290.2V131.3H291.4V134.2H292.6V130.4H293.7V135.8H294.9V133.2H296.1V135.3H297.4V134.4H298.7V129.8H300.0V129.4H302.0V128.4H303.3V129.5H304.6V125.6H305.9V126.4H307.2V125.5H308.5V129.0H309.8V131.3H311.0V132.8H312.2V134.3H313.4V132.0H314.6V133.3H315.7V132.3H316.8V136.2H317.9V134.3H319.0V141.5H320.0V145.1H321.3V137.4H322.6V131.3H323.8V131.3H325.0V131.3H326.1V131.3H327.3V131.3H328.5V131.3H330.0V133.3H331.4V138.2H332.7V144.1H334.0V143.9H335.4V149.0H336.7V149.7H338.0V149.7H339.3V152.9H340.6V151.3H341.9V146.2H343.2V143.1H344.5V143.6H345.8V146.3H347.1V149.0H348.4V148.0H349.7V143.6H351.0V141.1H352.2V142.2H353.4V144.5H354.6V145.3H355.8V143.6H356.9V145.1H358.2V143.1H359.6V139.2H360.9V140.2H362.1V138.8H363.3V138.6H364.5V139.1H365.8V139.2H367.1V142.6H368.4V146.6H369.7V147.0H371.2V141.8H372.6V141.1H374.1V150.1H375.6V154.9H377.0V149.1H378.5V147.0H379.7V148.5H380.9V154.9H382.0V151.2H383.1V152.5H384.3V152.3H385.4V149.0H386.9V142.9H388.3V137.2H389.6V135.2H390.8V136.4H392.0V136.7H393.2V135.3H394.5V131.5H395.8V132.2H397.2V130.4H398.5V130.3H399.8V135.3H401.1V133.3H402.4V130.0H403.7V130.3H405.0V129.4H406.3V129.6H407.6V129.9H408.9V130.4H410.4V134.3H411.9V136.2H413.3V131.1H414.8V129.4H416.0V131.6H417.3V130.4H418.5V132.3H419.7V133.3H420.9V132.1H422.2V133.9H423.4V128.7H424.6V129.4H425.8V128.3H427.1V137.0H428.3V140.0H429.5V140.2H430.8V137.1H432.1V131.9H433.4V131.3H434.9V134.9H436.4V137.2H437.5V141.4H438.6V141.7H439.7V144.1H440.9V143.2H442.1V139.2H443.3V137.2H444.5V135.5H445.7V132.2H446.9V130.8H448.2V129.4H449.4V129.7H450.6V134.8H451.8V135.3H453.1V135.3H454.2V134.7H455.4V136.5H456.6V142.1H457.8V134.5H459.0V137.2H460.1V135.2H461.3V140.6H462.5V139.8H463.7V141.7H464.8V140.2H466.0V140.2H467.2V140.2H468.4V140.2H469.5V140.2H470.7V140.2H472.0V139.1H473.3V137.9H474.7V135.3H475.9V136.0H477.1V135.6H478.3V135.9H479.6V134.3H481.0V129.8H482.5V139.2H483.8V136.7H485.1V134.3H486.4V129.4H487.6V130.9H488.9V130.8H490.1V132.1H491.3V134.3H492.6V136.3H493.9V134.6H495.3V138.2H497.2V145.1H498.5V140.7H499.8V142.8H501.1V139.2H502.4V139.2H503.6V139.2H504.8V139.2H506.0V139.2H507.5V143.8H509.0V144.1H510.3V137.0H511.6V135.4H512.9V130.4H514.4V134.8H515.9V134.3H517.2V133.5H518.5V134.4H519.8V133.3H521.0V129.4H522.1V135.0H523.3V136.3H524.5V132.9H525.7V135.3H526.9V133.8H528.1V134.5H529.3V136.7H530.6V134.3H531.9V137.9H533.2V137.0H534.5V141.1H535.7V138.4H536.9V137.7H538.2V138.0H539.4V134.3H540.7V130.7H542.0V137.7H543.3V138.2H544.5V136.4H545.7V140.2H546.8V141.3H548.0V137.5H549.2V140.2H550.4V140.4H551.6V140.7H552.7V141.1H553.9V140.1H555.1V139.2H556.4V137.4H557.7V138.1H559.0V135.3H560.2V135.3H561.5V135.3H562.7V135.3H563.9V135.3H565.4V139.2H566.9V140.2H568.1V144.7H569.3V138.0H570.5V140.6H571.8V142.1H573.2V146.6H574.7V147.0H575.9V149.0H577.2V151.1H578.4V152.2H579.6V151.0H580.8V151.0H582.1V151.0H583.3V151.0H584.5V151.0H585.6V150.6H586.7V155.3H587.8V154.3H588.8V156.8H590.0V155.3H591.2V147.8H592.4V146.1H593.7V147.3H595.0V146.8H596.3V145.1H597.6V147.2H598.9V148.9H600.2V151.0H602.0V151.9H603.2V151.9H604.5V151.9H605.7V151.9H606.9V151.9H608.4V158.3H609.8V161.7H611.1V163.0H612.3V157.0H613.5V159.2H614.8V156.8H616.0V160.2H617.2V152.7H618.4V155.3H619.7V152.9H620.8V152.2H622.0V152.6H623.2V149.3H624.4V146.6H625.5V147.0H626.9V148.6H628.2V152.9H629.5V156.8H631.4V142.1H632.9V151.4H634.4V161.7H635.7V161.9H637.0V156.4H638.3V156.8H639.5V156.8H640.7V156.8H642.0V156.8H643.2V156.8H644.7V161.3H646.1V162.7H647.5V161.3H648.8V155.8H650.1V156.8H651.3V160.0H652.5V159.7H653.7V162.7H655.0V161.7H656.3V154.7H657.6V152.4H658.9V147.0H660.2V148.7H661.5V153.4H662.8V157.8H664.0V150.7H665.2V155.0H666.4V153.1H667.5V146.1H668.7V146.1H669.9V148.2H671.2V153.8H672.4V154.5H673.6V156.8H674.8V159.5H676.1V156.8H677.3V155.8H678.5V157.8H679.7V157.2H681.0V149.0H682.2V147.5H683.4V145.1H684.7V146.2H686.0V140.8H687.3V142.1H688.6V145.2H689.8V145.1H691.0V145.4H692.2V150.0H693.4V151.1H694.6V149.3H695.8V149.2H697.0V148.6H698.1V149.0H699.3V149.2H700.5V152.2H701.7V153.4H702.8V154.3H704.0V152.9H705.2V149.2H706.5V146.8H707.7V146.4H708.9V145.1H710.2V145.3H711.4V144.8H712.6V142.4H713.8V140.2H715.1V140.0H716.3V141.9H717.5V145.1H718.7V145.1H720.2V148.2H721.7V151.9H722.9V150.8H724.0V149.9H725.2V147.1H726.4V147.7H727.6V148.0H728.7V147.6H729.9V149.4H731.1V148.6H732.3V151.8H733.4V151.9H734.6V154.0H735.8V153.3H737.0V152.7H738.2V150.8H739.3V151.0H740.5V149.2H741.6V149.5H742.7V147.9H743.8V151.8H744.9V149.6H746.1V148.5H747.2V148.0H748.4V147.3H749.5V149.5H750.7V149.3H751.9V146.8H753.1V146.1H754.2V145.6H755.4V149.5H756.6V152.2H757.8V149.1H759.0V151.9H760.3V151.2H761.6V147.1H762.9V147.0H764.4V149.4H765.8V156.8H767.0V155.0H768.3V155.1H769.5V150.2H770.7V149.0H771.9V150.1H773.1V147.6H774.3V151.5H775.4V151.4H776.6V151.0H777.8V149.8H779.1V145.6H780.3V146.9H781.5V145.1H782.7V144.5H783.9V152.5H785.0V147.3H786.2V144.9H787.4V146.1H788.6V147.4H789.9V147.7H791.1V154.3H792.3V153.9H793.6V155.3H794.9V153.5H796.2V157.8H797.5V153.5H798.7V151.1H799.9V144.0H801.1V147.0H803.1V161.7H804.4V159.9H805.7V154.4H807.0V151.0H808.3V154.3H809.6V156.0H810.9V161.7H812.3V157.9H813.6V157.0H814.9V153.9H816.2V151.2H817.5V154.6H818.8V151.9H820.0V152.5H821.1V156.7H822.3V157.3H823.5V157.3H824.7V161.7H825.9V160.8H827.1V153.5H828.4V155.0H829.6V153.9H830.8V153.6H831.9V157.6H833.1V157.8H834.3V152.7H835.5V156.8H836.6V158.1H837.8V154.5H839.0V153.2H840.2V150.7H841.4V151.9H842.7V151.5H844.0V157.9H845.3V161.7H846.5V156.4H847.7V157.6H849.0V155.3H850.2V151.9H851.3V152.8H852.5V153.9H853.6V154.0H854.8V156.9H855.9V154.2H857.1V155.9H858.2V153.5H859.3V157.4H860.4V153.4H861.5V154.4H862.7V151.8H863.8V152.3H864.9V152.9H866.0V152.9H867.1V152.9H868.3V152.9H869.4V152.9H870.5V152.9H871.6V152.9H872.7V152.9H874.1V153.1H875.4V153.4H876.7V156.8H877.8V156.8H879.0V156.8H880.2V156.8H881.4V156.8H882.6V156.8H883.8V159.8H885.0V159.7H886.2V159.0H887.5V161.7H888.6V161.8H889.7V162.8H890.8V161.5H892.0V162.7" fill="none" stroke="#345da9" stroke-width="2" stroke-linejoin="miter"/><path d="M0.0 1.5H0.9V1.5H2.0V1.5H3.1V1.5H4.2V1.5H5.3V1.5H6.4V1.5H7.5V1.5H8.6V1.5H9.7V1.5H10.6V6.8H11.7V5.2H12.8V5.9H13.9V3.8H15.1V8.1H16.2V6.4H17.3V4.9H18.4V4.8H19.5V5.8H21.4V10.7H22.9V15.2H24.4V15.6H26.3V26.4H27.6V24.4H28.9V26.7H30.3V27.4H31.6V23.4H32.9V25.8H34.2V21.5H35.4V20.2H36.6V21.7H37.9V23.5H39.1V23.4H40.6V29.5H42.0V32.3H43.3V35.8H44.6V38.2H46.0V39.1H47.4V39.1H48.9V36.2H50.9V44.0H52.2V48.5H53.5V46.5H54.8V50.9H56.1V54.0H57.4V51.8H58.7V52.9H60.0V52.5H61.3V47.7H62.6V46.0H63.9V45.5H65.1V44.4H66.3V45.5H67.5V45.0H68.8V43.8H70.2V46.2H71.5V44.0H72.9V46.2H74.4V48.9H76.4V56.8H77.7V56.8H79.0V56.8H80.3V56.8H81.8V54.8H83.2V54.8H84.5V55.5H85.7V53.2H86.9V54.6H88.1V55.8H89.6V59.5H91.1V59.7H92.5V61.1H94.0V65.6H95.2V65.9H96.5V70.6H97.7V70.2H98.9V71.5H100.2V68.5H101.5V66.0H102.8V60.7H104.0V59.0H105.1V55.7H106.2V56.8H107.5V57.4H108.7V66.6H110.7V71.5H112.0V69.7H113.3V71.6H114.6V72.5H115.9V74.5H117.2V78.2H118.5V77.4H120.0V78.5H121.5V80.3H122.8V80.6H124.1V75.9H125.4V73.5H126.7V69.5H128.0V71.4H129.3V66.6H130.6V68.3H132.0V71.9H133.3V71.5H134.4V71.5H135.6V70.2H136.8V66.6H137.9V66.1H139.0V69.3H140.1V70.5H141.4V68.6H142.7V70.5H144.1V69.5H145.5V71.2H147.0V74.4H149.0V82.3H150.4V84.5H151.9V80.3H153.4V80.7H154.8V86.2H156.1V88.2H157.3V84.6H158.5V89.8H159.7V93.1H161.1V90.4H162.4V88.0H163.7V84.2H165.1V88.3H166.6V87.2H167.9V85.4H169.2V82.8H170.5V83.3H171.8V79.6H173.2V78.3H174.5V78.4H175.9V84.0H177.4V86.2H178.7V83.6H180.0V87.3H181.3V87.2H182.6V90.4H183.9V93.9H185.3V100.9H186.6V99.2H187.9V91.5H189.2V90.1H190.5V88.2H191.8V95.8H193.1V98.0H194.4V98.6H195.7V95.2H197.0V100.9H198.5V100.5H200.0V96.0H201.4V97.9H202.9V101.9H204.4V107.7H205.9V108.8H207.2V108.5H208.5V103.0H209.8V100.9H211.1V99.1H212.4V102.2H213.7V99.9H214.9V99.9H216.1V99.9H217.2V99.9H218.4V99.9H219.6V99.9H220.9V101.8H222.2V98.9H223.5V100.9H224.7V100.1H225.9V101.4H227.0V101.3H228.2V103.5H229.4V104.8H230.7V99.6H232.0V100.7H233.3V96.0H234.6V94.0H235.9V93.6H237.2V94.1H238.6V92.3H239.9V94.5H241.2V96.0H242.5V102.9H243.8V100.8H245.1V100.9H247.1V96.0H248.5V102.2H250.0V108.8H251.5V110.4H252.9V114.7H254.2V111.9H255.6V112.7H256.9V110.7H258.2V108.7H259.5V107.2H260.8V107.8H262.1V107.1H263.4V107.1H264.7V102.9H266.0V101.6H267.3V101.1H268.6V99.9H269.8V99.4H271.0V100.1H272.2V96.1H273.3V98.8H274.5V97.0H275.7V94.4H276.9V90.2H278.1V97.8H279.2V94.6H280.4V96.0H281.6V94.5H282.9V99.1H284.1V96.6H285.3V99.0H286.5V97.3H287.8V101.6H289.0V99.7H290.2V100.9H291.5V101.7H292.8V103.6H294.1V103.9H295.4V105.2H296.8V101.2H298.1V100.9H299.4V100.9H300.7V100.9H302.0V100.9H303.2V102.5H304.4V99.6H305.5V102.5H306.7V102.8H307.9V103.9H309.2V104.1H310.5V107.3H311.8V110.7H313.0V107.3H314.2V106.3H315.3V104.5H316.5V101.1H317.7V100.9H318.9V100.2H320.0V101.3H321.2V96.6H322.4V97.1H323.6V96.0H324.9V99.5H326.2V103.5H327.5V103.9H328.8V104.3H330.1V104.0H331.4V100.9H332.6V100.9H333.7V100.9H334.9V100.9H336.0V100.9H337.2V100.9H338.3V100.9H339.5V102.5H340.7V105.7H341.8V102.1H343.0V107.1H344.2V106.8H345.5V111.3H346.8V112.7H348.1V113.7H349.3V114.5H350.6V114.3H351.8V116.8H353.0V114.7H354.2V115.1H355.5V118.1H356.7V119.0H357.9V119.6H359.2V121.8H360.5V123.1H361.8V123.5H363.3V122.0H364.8V117.6H366.0V115.7H367.2V118.8H368.5V115.2H369.7V116.6H371.2V113.7H372.6V107.8H373.9V106.3H375.1V105.6H376.3V104.9H377.5V106.8H378.8V103.7H380.0V104.3H381.2V107.1H382.4V101.9H383.5V101.2H384.6V97.1H385.7V97.9H386.8V96.0H387.9V98.2H389.0V98.6H390.1V101.4H391.3V101.9H392.5V105.1H393.7V102.9H394.9V108.2H396.2V104.8H397.4V101.1H398.6V100.3H399.9V100.2H401.1V99.0H402.3V98.5H403.5V99.2H404.8V101.0H406.0V100.9H407.2V103.3H408.4V103.7H409.7V104.5H410.9V105.8H412.0V104.4H413.2V103.6H414.3V107.1H415.5V108.7H416.6V105.4H417.8V106.8H418.9V109.8H420.0V105.4H421.2V107.0H422.3V108.4H423.5V107.5H424.6V105.8H425.9V105.1H427.2V100.3H428.5V99.9H429.7V96.6H430.8V95.3H431.9V94.3H433.1V90.1H434.2V90.7H435.3V96.7H436.4V99.0H437.6V101.0H438.8V103.2H440.1V101.9H441.3V102.9H442.5V101.4H443.8V99.7H445.0V99.7H446.2V100.9H447.4V97.1H448.7V98.4H449.9V99.5H451.1V96.0H452.4V100.3H453.7V91.2H455.0V99.9H456.2V98.0H457.4V99.3H458.6V98.6H459.7V97.0H460.9V99.0H462.2V97.8H463.5V99.1H464.8V96.0H466.1V102.1H467.5V103.8H468.8V106.8H469.9V105.1H471.1V108.6H472.3V108.9H473.5V109.1H474.7V109.8H475.8V109.1H477.0V109.4H478.2V112.2H479.4V109.5H480.5V111.7H481.7V110.8H482.9V108.6H484.1V107.9H485.2V105.6H486.4V105.8H487.6V104.5H488.9V104.9H490.1V107.3H491.3V106.8H492.6V109.3H493.9V108.7H495.3V111.7H496.5V111.2H497.7V111.5H498.9V109.9H500.2V108.8H501.4V110.2H502.6V107.9H503.8V110.3H505.1V110.7H506.3V114.3H507.5V115.6H508.7V114.2H510.0V115.6H511.2V114.9H512.4V112.1H513.6V110.6H514.9V111.7H516.3V115.3H517.8V117.6H519.0V109.4H520.3V111.7H521.5V109.7H522.7V109.8H524.0V113.9H525.3V112.0H526.6V115.6H527.9V112.9H529.3V112.7H530.6V109.8H531.9V109.4H533.2V114.3H534.5V114.7H535.7V116.9H536.9V111.5H538.2V107.5H539.4V107.8H540.7V110.0H542.0V108.8H543.3V111.7H544.6V110.2H545.9V100.4H547.2V101.9H548.5V101.4H549.7V105.6H550.9V105.0H552.1V104.8H553.4V105.8H554.6V108.4H555.8V105.1H557.1V106.8H558.4V102.7H559.7V103.5H561.0V101.9H562.2V102.4H563.4V105.6H564.7V111.5H565.9V113.7H567.1V114.5H568.3V112.7H569.6V109.3H570.8V109.8H572.0V111.1H573.2V112.4H574.5V111.5H575.7V114.7H577.0V110.2H578.3V110.0H579.6V105.8H580.9V104.4H582.2V102.2H583.5V101.9H584.8V103.8H586.0V104.5H587.2V108.4H588.4V109.8H589.7V111.9H590.9V114.7H592.1V113.1H593.3V113.7H594.7V112.8H596.0V117.8H597.3V116.6H598.5V116.2H599.6V119.7H600.8V119.7H602.0V123.5H603.1V123.5H604.2V123.5H605.4V123.5H606.5V123.5H607.6V123.5H608.7V123.5H609.8V123.5H611.0V125.2H612.2V125.4H613.4V121.9H614.6V123.4H615.7V124.5H617.0V124.6H618.2V123.0H619.4V118.5H620.6V117.6H621.9V119.5H623.1V121.0H624.3V122.6H625.5V121.5H626.8V123.1H628.0V118.0H629.2V119.5H630.4V117.6H631.7V118.8H632.9V123.3H634.1V120.9H635.4V124.5H636.6V125.1H637.8V129.2H639.0V128.1H640.3V132.3H641.6V133.5H642.9V129.3H644.2V129.4H645.4V126.8H646.6V125.5H647.9V124.2H649.1V119.6H650.3V118.1H651.5V120.7H652.8V119.4H654.0V117.6H655.2V111.6H656.4V114.1H657.7V116.6H658.9V113.7H660.4V117.0H661.8V123.5H663.1V124.7H664.3V118.8H665.5V121.8H666.7V118.6H667.9V116.5H669.1V118.4H670.3V118.7H671.5V116.3H672.6V117.6H673.9V119.9H675.1V119.1H676.3V124.6H677.5V121.5H678.8V118.6H680.0V121.5H681.2V118.8H682.4V118.6H683.6V125.5H684.8V125.7H686.0V118.4H687.1V121.9H688.3V122.5H689.4V123.0H690.5V124.1H691.6V128.1H692.6V127.4H693.9V122.1H695.2V111.7H696.5V113.9H697.8V120.5H699.1V122.5H700.3V120.6H701.6V124.3H702.8V125.1H704.0V124.5H705.2V123.5H706.5V122.8H707.7V127.0H708.9V123.5H710.2V123.2H711.4V124.0H712.6V121.2H713.8V119.6H715.1V119.5H716.3V120.5H717.5V119.4H718.7V118.6H719.8V119.0H721.0V117.2H722.1V113.7H723.2V115.8H724.3V118.7H725.5V121.4H726.6V121.5H727.9V121.4H729.2V116.4H730.5V114.7H731.7V115.4H733.0V119.3H734.2V126.2H735.4V122.5H736.7V122.4H738.0V118.6H739.3V115.6H740.6V117.3H741.8V121.2H743.0V122.9H744.2V127.4H745.5V123.9H746.9V121.5H748.2V114.7H749.3V114.5H750.4V115.6H751.5V112.0H752.7V112.7H753.8V118.1H754.8V119.2H755.9V125.8H757.0V127.4H758.2V126.4H759.4V123.2H760.7V123.5H761.9V119.6H763.1V121.1H764.4V120.0H765.6V116.4H766.8V117.6H768.0V120.6H769.2V115.9H770.3V124.2H771.5V116.5H772.7V119.6H773.9V118.6H775.0V119.5H776.2V117.8H777.4V120.0H778.6V117.6H779.8V117.6H780.9V117.6H782.1V117.6H783.3V117.6H784.5V117.6H785.8V118.3H787.1V119.7H788.4V124.5H789.6V124.8H790.7V125.1H791.9V121.5H793.1V121.4H794.3V123.5H795.4V126.1H796.6V119.5H797.8V122.2H799.0V124.3H800.2V124.5H801.3V123.6H802.4V126.4H803.5V122.6H804.6V125.9H805.8V122.6H806.9V119.3H808.0V123.5H809.2V120.9H810.4V125.4H811.5V126.1H812.7V123.0H813.9V122.5H815.2V123.7H816.5V121.0H817.8V118.6H819.0V120.8H820.3V127.4H821.5V127.6H822.7V131.3H823.9V127.8H825.2V125.3H826.4V128.4H827.6V124.5H828.8V124.8H830.1V122.6H831.3V121.7H832.5V123.5H833.8V126.9H835.0V125.1H836.2V128.5H837.4V131.3H838.5V130.6H839.6V135.9H840.7V128.9H841.7V127.4H842.9V128.7H844.0V134.1H845.1V136.6H846.3V138.2H847.5V136.9H848.7V136.2H849.9V134.5H851.2V132.3H852.3V130.3H853.5V129.9H854.7V130.4H855.9V130.1H857.1V129.4H858.3V128.9H859.5V133.6H860.7V132.4H862.0V133.3H863.1V135.1H864.3V132.0H865.5V133.7H866.7V135.8H867.8V134.3H869.1V140.8H870.3V138.1H871.5V136.8H872.7V138.2H873.9V137.7H875.1V139.4H876.3V137.8H877.5V137.8H878.6V139.2H879.8V137.9H881.0V137.9H882.2V134.5H883.3V132.7H884.5V134.3H885.7V134.0H887.0V134.4H888.2V135.1H889.4V133.3H890.7V138.7H892.0V138.2" fill="none" stroke="#55da62" stroke-width="2" stroke-linejoin="miter"/></svg>
<div class="abs lg" style="left:1016px;top:681.8px;background:#d73229"></div><div class="abs lg" style="left:1016px;top:713.8px;background:#345da9"></div><div class="abs lg" style="left:1016px;top:745.8px;background:#55da62"></div>
<div class="abs" style="left:88px;top:821px;width:0;height:0;transform:rotate(-90deg)"><span class="t" style="left:0;top:-7.3px;letter-spacing:0px">pct</span></div>

<!-- plot: wealth distribution -->
<div class="abs pw" style="left:1176px;top:641.5px;width:757.5px;height:310px"><div class="in"></div></div>
<svg class="abs" style="left:1216px;top:676px;background:#fff" width="704" height="244" viewBox="0 0 704 244" shape-rendering="crispEdges"><path d="M28.9 243V224.7H35.9V243M35.9 243V243.0H42.9V243M42.9 243V230.8H50.0V243M50.0 243V212.6H57.0V243M57.0 243V243.0H64.1V243M64.1 243V182.1H71.1V243M71.1 243V176.0H78.1V243M78.1 243V169.9H85.2V243M85.2 243V151.7H92.2V243M92.2 243V102.9H99.3V243M99.3 243V96.8H106.3V243M106.3 243V84.7H113.3V243M113.3 243V90.8H120.4V243M120.4 243V54.2H127.4V243M127.4 243V54.2H134.5V243M134.5 243V72.5H141.5V243M141.5 243V23.8H148.5V243M148.5 243V48.1H155.6V243M155.6 243V78.6H162.6V243M162.6 243V96.8H169.7V243M169.7 243V72.5H176.7V243M176.7 243V78.6H183.7V243M183.7 243V115.1H190.8V243M190.8 243V169.9H197.8V243M197.8 243V151.7H204.9V243M204.9 243V176.0H211.9V243M211.9 243V218.6H218.9V243M218.9 243V230.8H226.0V243M226.0 243V212.6H233.0V243M233.0 243V230.8H240.1V243M240.1 243V224.7H247.1V243M247.1 243V224.7H254.1V243M254.1 243V243.0H261.2V243M261.2 243V243.0H268.2V243M268.2 243V243.0H275.3V243M275.3 243V236.9H282.3V243M282.3 243V243.0H289.3V243M289.3 243V243.0H296.4V243M296.4 243V243.0H303.4V243M303.4 243V243.0H310.5V243M310.5 243V236.9H317.5V243" fill="none" stroke="#59b03c" stroke-width="2"/><path d="M34.9 243H43.9" stroke="#59b03c" stroke-width="2"/><path d="M56.0 243H65.1" stroke="#59b03c" stroke-width="2"/><path d="M253.1 243H262.2" stroke="#59b03c" stroke-width="2"/><path d="M260.2 243H269.2" stroke="#59b03c" stroke-width="2"/><path d="M267.2 243H276.3" stroke="#59b03c" stroke-width="2"/><path d="M281.3 243H290.3" stroke="#59b03c" stroke-width="2"/><path d="M288.3 243H297.4" stroke="#59b03c" stroke-width="2"/><path d="M295.4 243H304.4" stroke="#59b03c" stroke-width="2"/><path d="M302.4 243H311.5" stroke="#59b03c" stroke-width="2"/></svg>

<!-- switch -->
<div class="abs" style="left:1936px;top:660px;width:180px;height:66px;background:#82bcb7;border:2px solid;border-color:#7c7c7c #4c6f6c #4c6f6c #7c7c7c"><div class="abs" style="left:0;top:0;right:0;bottom:0;border-style:solid;border-width:2px;border-color:#fff #5f8985 #5f8985 #fff"></div><div class="abs" style="left:2px;top:2px;right:2px;bottom:2px;border-style:solid;border-width:2px 0 0 2px;border-color:#aef3ee"></div></div>
<div class="abs" style="left:1948px;top:668px;width:18px;height:31px;background:#3f5b58;border-style:solid;border-width:2px 3px 0 5px;border-color:#7e8a89 #2f4543 #2f4543 #5f8985"></div>
<div class="abs" style="left:1944px;top:698.5px;width:26px;height:17.5px;background:#c76a6a;border:2px solid;border-color:#ffa5a5 #7d4242 #7d4242 #ffc2c2"></div>

<!-- buttons -->
<div class="abs" style="left:2148px;top:662px;width:178px;height:66px;background:#bcbce6;border:2px solid;border-color:#808080 #6e6e87 #6e6e87 #808080"><div class="abs" style="left:0;top:0;right:0;bottom:0;border-style:solid;border-width:3px 2px 2px 3px;border-color:#fff #9494b5 #9494b5 #fff"></div></div>
<div class="abs" style="left:2338px;top:662px;width:170px;height:66px;background:#000;border:1.5px solid;border-color:#6a6a6a #777 #777 #6a6a6a"><div class="abs" style="left:0;top:0;right:0;bottom:0;border-style:solid;border-width:4px 3.5px 3.5px 4px;border-color:#7f7f9c #fff #fff #7f7f9c"></div></div>
<svg class="abs" style="left:2484px;top:702px" width="16" height="18" viewBox="0 0 8 9" shape-rendering="crispEdges"><rect x="1" y="0" width="5" height="1" fill="#05f905"/><rect x="7" y="0" width="1" height="1" fill="#05f905"/><rect x="0" y="1" width="8" height="1" fill="#05f905"/><rect x="0" y="2" width="2" height="1" fill="#05f905"/><rect x="5" y="2" width="3" height="1" fill="#05f905"/><rect x="0" y="3" width="1" height="1" fill="#05f905"/><rect x="4" y="3" width="4" height="1" fill="#05f905"/><rect x="0" y="5" width="4" height="1" fill="#05f905"/><rect x="7" y="5" width="1" height="1" fill="#05f905"/><rect x="0" y="6" width="3" height="1" fill="#05f905"/><rect x="6" y="6" width="2" height="1" fill="#05f905"/><rect x="0" y="7" width="8" height="1" fill="#05f905"/><rect x="0" y="8" width="1" height="1" fill="#05f905"/><rect x="2" y="8" width="5" height="1" fill="#05f905"/></svg>

<!-- plot: bottom-20pct-stability -->
<div class="abs pw" style="left:38px;top:957.5px;width:1196px;height:274px"><div class="in"></div></div>
<svg class="abs" style="left:98px;top:994px;background:#fff" width="910" height="205.5" viewBox="0 0 910 205.5" shape-rendering="crispEdges"><path d="M0.8 202.9H2.2V195.1H3.5V190.6H4.8V183.2H6.1V178.2H7.5V168.0H8.8V160.5H10.1V151.3H11.4V146.4H12.8V147.4H14.1V144.6H15.4V136.3H16.7V128.7H17.9V128.2H19.1V124.0H20.3V125.2H21.4V122.2H22.6V119.4H23.8V118.2H25.6V128.7H27.3V114.6H28.6V117.2H30.0V118.2H31.7V123.5H33.1V111.2H34.4V100.5H35.7V102.7H37.0V104.0H38.4V99.8H39.7V98.7H40.8V101.2H41.9V102.2H43.0V100.5H44.1V104.0H45.2V101.6H46.3V100.5H47.4V105.4H48.5V97.0H49.8V94.9H51.2V90.8H52.3V94.2H53.5V90.3H54.7V93.4H55.9V92.7H57.0V93.2H58.2V97.0H59.4V94.8H60.6V98.0H61.8V95.2H63.0V105.8H64.1V100.8H65.1V93.1H66.2V93.4H67.3V88.6H68.5V90.5H69.7V86.4H70.9V85.8H72.1V84.2H73.2V85.5H74.6V90.5H75.9V91.7H77.2V85.9H78.5V77.5H79.9V77.4H81.2V81.1H82.5V75.2H83.8V74.0H85.0V79.0H86.2V88.3H87.4V91.7H88.5V91.7H89.7V91.7H90.9V91.7H92.2V82.2H93.5V72.2H94.7V69.5H95.9V71.9H97.1V70.5H98.4V70.5H99.7V70.5H101.1V73.5H102.4V77.5H103.7V81.6H105.0V83.7H106.1V80.9H107.2V80.3H108.3V78.1H109.4V77.5H110.5V75.1H111.6V78.0H112.8V76.0H113.9V74.0H115.0V78.9H116.2V79.1H117.4V81.9H118.6V80.2H119.7V76.7H120.9V74.0H122.2V76.5H123.6V81.9H124.7V76.6H125.9V76.8H127.1V70.5H128.3V67.9H129.5V64.8H130.6V64.3H131.8V62.3H133.0V61.7H134.2V63.4H135.3V63.9H136.5V56.5H137.7V59.0H139.0V55.9H140.3V51.0H141.6V53.5H142.9V59.9H144.2V61.6H145.3V59.7H146.3V46.0H147.4V49.3H148.7V52.8H150.1V57.2H151.4V52.4H152.7V50.2H153.9V48.8H155.1V43.1H156.2V43.1H157.4V41.0H158.6V42.6H159.8V44.0H160.8V45.6H161.9V46.6H162.9V47.5H163.9V47.0H165.0V44.0H166.0V39.6H167.1V42.0H168.3V43.7H169.5V42.2H170.7V41.4H171.8V43.8H173.0V43.1H174.0V43.1H175.1V43.1H176.1V43.1H177.1V43.1H178.2V43.1H179.2V43.1H180.3V43.1H181.3V43.1H182.4V43.1H183.4V43.1H184.5V43.1H186.3V36.9H187.4V37.4H188.6V40.8H189.8V44.0H191.0V42.8H192.1V47.2H193.3V47.5H194.4V47.7H195.5V44.0H196.6V43.0H197.7V44.9H198.8V45.6H199.9V40.7H201.1V39.9H202.2V39.6H203.3V41.3H204.4V40.3H205.5V42.3H206.6V41.3H207.7V44.4H208.9V47.0H210.1V49.3H211.2V45.8H212.3V45.7H213.4V44.9H214.5V45.7H215.6V45.9H216.7V45.5H217.8V48.1H218.9V46.6H220.1V46.6H221.3V45.6H222.5V43.1H223.6V43.1H224.7V43.1H225.8V43.1H226.9V43.1H228.1V43.1H229.2V40.5H230.4V48.4H231.5V50.1H232.6V47.9H233.7V46.2H234.8V51.0H235.9V52.8H237.0V45.9H238.1V50.4H239.2V50.2H240.3V48.6H241.4V49.3H242.6V51.5H243.7V51.9H244.8V49.7H245.9V49.1H247.0V48.6H248.1V49.3H249.1V49.3H250.2V49.3H251.2V49.3H252.3V49.3H253.4V49.3H254.5V48.4H255.6V45.0H256.7V46.6H257.8V45.7H258.9V45.7H260.0V43.5H261.1V42.6H262.2V44.0H263.3V44.0H264.3V44.0H265.4V44.0H266.4V44.0H267.5V44.0H268.6V44.0H269.6V44.0H270.7V44.0H271.7V44.0H272.8V44.0H273.9V40.7H275.0V42.3H276.1V40.2H277.2V40.4H278.4V38.9H279.6V34.7H280.7V34.3H281.9V30.8H283.1V38.8H284.3V39.6H285.5V37.3H286.6V36.4H287.8V35.2H288.9V32.8H290.0V35.1H291.1V33.7H292.2V36.0H293.3V36.1H294.4V32.0H295.5V30.9H296.6V31.6H297.7V31.4H298.8V36.6H299.9V36.8H300.9V36.5H302.0V37.8H303.1V37.8H304.1V37.8H305.2V37.8H306.2V37.8H307.3V37.8H308.4V41.2H309.5V41.2H310.6V42.4H311.7V43.1H312.8V49.0H313.8V45.0H314.9V45.0H316.0V42.6H317.0V44.0H318.1V47.1H319.2V43.8H320.3V41.0H321.4V40.4H322.5V41.6H323.5V38.7H324.6V39.6H325.7V37.0H326.7V38.7H327.8V39.7H328.9V39.6H330.0V35.8H331.1V36.9H332.3V34.1H333.5V36.1H334.7V32.5H335.7V36.2H336.7V39.3H337.7V41.4H338.7V43.1H340.0V41.6H341.3V34.5H342.6V33.4H343.7V34.8H344.7V33.2H345.8V38.2H346.9V34.3H347.9V31.6H349.0V31.1H350.0V29.9H351.1V35.8H352.2V30.8H353.2V29.9H354.4V30.4H355.6V36.2H356.7V37.8H357.8V37.5H359.0V33.6H360.1V32.1H361.2V33.4H362.3V29.4H363.5V31.1H364.7V26.3H365.8V24.4H366.9V26.0H368.0V24.4H369.1V24.6H370.3V29.0H371.5V31.2H372.6V30.7H373.7V32.2H374.8V27.6H376.0V28.8H377.1V29.9H378.4V33.3H379.7V35.2H380.8V35.4H381.9V35.0H383.0V34.0H384.1V32.5H385.2V36.5H386.3V37.4H387.4V39.6H388.5V43.1H389.6V42.2H390.7V44.5H391.7V45.9H392.8V41.5H393.8V44.0H394.9V42.8H396.0V39.3H397.1V42.7H398.2V39.6H399.6V42.9H400.9V47.5H402.1V43.2H403.3V39.2H404.4V34.3H405.5V36.1H406.5V30.6H407.6V31.5H408.7V34.3H409.7V31.6H410.8V34.4H411.8V32.4H412.8V32.7H413.8V38.1H414.9V33.9H415.9V32.5H416.9V31.7H418.0V33.3H419.0V30.9H420.0V32.3H421.1V33.3H422.1V31.6H423.1V29.6H424.2V33.2H425.3V32.3H426.3V35.3H427.4V30.7H428.6V33.6H429.7V34.7H430.9V35.2H432.1V34.8H433.3V31.1H434.5V28.1H435.6V26.1H436.8V24.4H438.0V23.7H439.1V26.5H440.2V24.3H441.3V28.3H442.4V29.0H443.4V29.0H444.5V29.0H445.5V29.0H446.5V29.0H447.5V29.0H448.6V29.0H449.7V27.4H450.8V33.6H451.9V25.5H453.0V24.6H454.1V24.3H455.2V21.2H456.3V23.4H457.4V20.1H458.5V19.7H459.6V20.2H460.7V19.7H461.8V22.8H462.9V22.3H464.0V23.3H465.1V14.0H466.2V19.3H467.3V19.3H468.4V19.3H469.5V19.3H470.7V19.3H471.8V21.7H473.0V23.8H474.2V23.7H475.3V21.8H476.4V24.3H477.5V22.0H478.6V20.1H479.7V19.4H480.7V21.0H481.8V19.1H482.8V18.7H483.9V19.3H485.0V22.3H486.1V21.6H487.2V24.7H488.3V23.7H489.5V23.8H490.7V17.6H491.8V18.4H492.9V18.1H494.1V19.1H495.2V23.2H496.3V22.8H497.4V24.8H498.5V21.8H499.6V22.1H500.7V23.7H501.9V25.9H503.0V18.2H504.2V18.4H505.4V18.0H506.6V18.6H507.7V14.0H508.9V18.7H510.1V18.5H511.3V21.9H512.4V16.7H513.6V14.4H514.8V14.0H515.9V8.7H516.9V12.9H518.0V12.8H519.0V9.4H520.1V11.3H521.3V12.9H522.5V13.8H523.6V16.6H524.7V19.2H525.8V15.6H526.9V18.9H528.0V17.5H529.1V17.5H530.2V17.5H531.2V17.5H532.3V17.5H533.3V17.5H534.5V19.1H535.6V16.8H536.7V13.1H537.8V14.0H538.9V13.9H540.1V18.7H541.3V17.5H542.4V15.1H543.5V16.5H544.6V16.4H545.7V16.6H546.9V25.7H548.1V19.3H549.2V21.9H550.4V18.8H551.6V18.2H552.8V19.3H553.9V18.1H555.1V14.9H556.3V13.1H557.4V13.1H558.4V13.1H559.5V13.1H560.5V13.1H561.6V13.1H562.8V12.1H564.0V13.1H565.1V14.8H566.3V19.0H567.5V20.4H568.7V23.7H569.8V23.6H570.9V20.2H572.0V21.4H573.1V19.3H574.2V20.1H575.3V20.6H576.4V15.3H577.5V17.5H578.6V21.9H579.7V24.1H580.8V25.7H581.9V28.1H583.0V27.8H584.1V26.0H585.2V27.3H586.3V25.4H587.5V32.2H588.7V29.3H589.9V32.5H591.0V28.7H592.1V31.1H593.2V23.1H594.3V20.1H595.5V16.1H596.6V16.3H597.8V14.0H599.0V15.1H600.2V16.8H601.3V21.9H602.4V22.3H603.4V23.1H604.5V21.1H605.5V19.3H606.7V18.8H607.9V8.5H609.1V13.1H610.4V13.3H611.7V21.0H612.8V18.2H613.9V23.8H615.0V20.0H616.1V19.3H617.3V23.3H618.5V22.0H619.7V27.2H620.7V28.2H621.8V28.6H622.8V32.5H624.1V31.9H625.4V27.0H626.7V23.7H627.8V23.3H628.9V22.4H630.0V20.8H631.1V18.4H632.3V18.4H633.5V23.8H634.7V23.7H635.7V24.6H636.8V25.3H637.8V21.2H638.9V22.3H640.0V22.8H641.1V23.5H642.2V18.4H643.3V21.4H644.4V19.3H645.5V19.2H646.6V15.3H647.7V16.4H648.8V14.0H649.9V12.2H651.0V11.6H652.1V14.9H653.2V12.2H654.4V17.3H655.6V11.5H656.7V21.0H657.9V14.9H659.1V12.8H660.3V11.3H661.4V10.1H662.5V15.1H663.6V11.4H664.7V14.8H665.8V16.0H666.9V16.6H668.0V18.0H669.1V18.4H670.4V17.4H671.8V13.1H672.8V20.4H673.8V24.5H674.8V32.5H675.8V28.7H676.9V23.3H677.9V21.0H679.3V20.5H680.6V17.5H681.7V21.5H682.8V18.4H683.9V18.0H685.0V23.7H686.1V24.6H687.1V21.2H688.2V22.4H689.2V20.7H690.3V19.3H691.4V18.7H692.5V21.5H693.6V19.8H694.7V21.9H695.9V22.9H697.1V19.3H698.2V17.5H699.3V17.5H700.3V17.5H701.3V17.5H702.4V17.5H703.4V17.5H704.4V17.5H705.5V20.6H706.5V14.2H707.6V22.8H708.8V17.5H710.0V18.9H711.2V16.1H712.4V11.3H713.5V14.1H714.6V13.3H715.7V11.6H716.8V13.1H717.8V15.3H718.9V15.8H720.0V13.5H721.0V15.1H722.1V14.0H723.1V13.4H724.2V12.1H725.3V14.2H726.3V14.6H727.4V15.7H728.4V12.3H729.5V12.6H730.6V10.9H731.6V9.8H732.7V11.3H733.7V12.2H734.8V11.5H735.9V14.8H736.9V13.9H738.0V17.5H739.1V15.1H740.2V17.5H741.3V15.6H742.4V13.1H743.4V13.5H744.5V13.8H745.5V13.3H746.5V9.9H747.5V12.2H748.6V11.3H749.6V9.2H750.7V9.5H751.8V9.4H752.8V7.8H753.9V9.5H755.1V8.8H756.2V7.4H757.4V5.1H758.5V1.0H759.6V2.2H760.7V1.6H761.8V9.5H762.9V9.4H763.9V9.7H765.0V6.6H766.1V4.7H767.1V5.1H768.2V8.1H769.3V11.6H770.4V13.0H771.5V13.1H772.6V13.3H773.7V14.7H774.8V14.3H776.0V17.5H777.0V16.0H778.1V16.7H779.1V17.6H780.2V13.0H781.2V14.0H782.4V11.2H783.5V12.0H784.6V12.3H785.7V11.3H786.8V5.3H787.9V13.6H789.0V14.3H790.1V17.5H791.1V18.9H792.1V16.0H793.2V19.9H794.2V16.3H795.2V15.3H796.3V18.4H797.3V18.0H798.4V13.5H799.4V13.1H800.7V10.3H802.0V20.7H803.3V21.9H804.4V19.1H805.4V19.2H806.5V18.0H807.6V22.7H808.6V20.1H809.7V17.4H810.7V20.1H811.8V23.5H812.9V19.3H813.9V21.9H815.0V22.3H816.0V22.1H817.1V21.1H818.2V20.7H819.2V17.5H820.5V13.9H821.9V13.1H823.0V16.3H824.1V13.6H825.2V19.3H826.3V18.4H827.3V23.1H828.4V14.5H829.5V21.2H830.5V8.7H831.6V14.0H832.7V9.9H833.8V14.4H834.9V12.6H836.0V13.1H837.1V16.2H838.2V12.9H839.3V17.2H840.4V17.5H841.5V22.0H842.6V11.8H843.7V9.8H844.8V10.4H845.9V7.5H847.0V9.5H848.1V9.4H849.2V6.0H850.4V9.8H851.6V5.3H852.8V5.1H853.9V8.6H855.0V9.9H856.1V7.0H857.2V9.5H858.4V8.3H859.5V9.9H860.7V10.4H861.8V11.7H862.9V7.7H864.0V12.8H865.1V6.0H866.2V5.3H867.3V5.5H868.4V8.6H869.5V8.7H870.6V9.1H871.7V7.8H872.7V8.0H873.8V11.5H874.8V9.5H876.0V6.2H877.2V8.0H878.3V9.8H879.5V2.6H880.7V2.5H882.0V3.7H883.3V9.0H884.6V10.4H885.7V16.5H886.9V10.5H888.1V9.5H889.3V9.5H890.4V9.5H891.6V9.5" fill="none" stroke="#ac2820" stroke-width="2" stroke-linejoin="miter"/><path d="M0.8 202.9H1.9V202.9H3.0V202.9H4.1V202.9H5.1V202.9H6.2V202.9H7.3V202.9H8.4V202.9H9.5V202.9H10.5V202.9H11.9V199.8H13.2V194.1H14.3V194.1H15.3V194.1H16.4V194.1H17.4V194.1H18.5V194.1H19.5V197.1H20.6V195.3H21.7V193.6H22.7V192.1H23.8V193.2H25.0V187.2H26.1V182.3H27.3V173.8H28.5V179.6H29.7V178.6H30.9V183.5H32.0V177.5H33.2V173.4H34.4V169.4H35.5V163.7H36.6V164.8H37.7V167.8H38.8V160.5H40.1V166.3H41.4V169.4H42.6V168.4H43.8V162.6H45.0V160.5H46.1V160.5H47.2V160.5H48.3V160.5H49.4V160.5H50.6V154.8H51.7V151.8H52.9V148.2H54.1V148.3H55.3V146.9H56.5V144.6H57.8V149.9H59.1V155.2H60.3V156.1H61.5V153.7H62.6V149.9H63.8V147.0H65.0V144.7H66.2V141.1H67.5V139.6H68.8V138.5H70.0V139.1H71.2V140.6H72.4V142.9H73.4V141.6H74.5V143.2H75.5V143.3H76.6V139.5H77.7V141.1H78.7V140.4H79.8V140.3H80.8V142.6H81.9V141.8H82.9V142.9H84.0V143.3H85.1V139.9H86.1V142.7H87.2V139.1H88.2V141.1H89.4V138.7H90.6V130.5H91.8V132.3H92.9V128.1H94.0V126.6H95.1V128.4H96.2V124.3H97.4V119.1H98.5V129.7H99.7V128.7H100.8V127.2H101.8V126.4H102.9V126.5H104.0V120.3H105.0V125.2H106.2V124.4H107.4V124.2H108.6V120.8H109.7V123.2H110.9V126.1H112.1V127.9H113.3V129.2H114.4V129.0H115.6V127.0H116.8V128.5H118.0V120.8H119.2V119.9H120.3V121.6H121.5V122.6H122.7V121.7H123.9V115.4H125.0V113.8H126.2V109.3H127.3V107.5H128.4V106.8H129.5V107.3H130.6V108.4H131.8V110.1H133.0V110.6H134.2V114.6H135.0V122.6H136.2V116.8H137.4V114.1H138.6V108.4H139.8V111.4H140.9V109.2H142.1V111.1H143.3V107.5H144.5V105.0H145.6V104.0H146.7V105.3H147.8V105.5H149.0V101.7H150.1V102.3H151.4V103.5H152.7V97.0H153.9V93.4H155.1V92.8H156.2V93.4H157.4V98.9H158.6V98.9H159.8V104.0H161.1V104.0H162.4V104.0H163.6V100.5H164.8V96.2H166.0V93.4H167.1V94.8H168.3V97.5H169.5V97.0H170.7V94.1H171.8V95.9H173.0V95.2H174.2V100.0H175.4V100.7H176.5V104.0H177.9V106.4H179.2V108.4H180.4V108.1H181.6V103.2H182.7V104.0H183.9V99.8H185.1V98.0H186.3V97.8H187.4V101.6H188.6V98.5H189.8V102.3H191.0V100.4H192.1V105.3H193.3V104.0H194.5V105.8H195.7V107.5H196.9V112.0H198.0V111.5H199.1V106.4H200.2V108.2H201.3V105.8H202.4V105.3H203.5V104.4H204.6V100.7H205.7V99.6H206.9V101.1H208.0V104.8H209.2V105.8H210.3V107.4H211.4V109.1H212.5V106.8H213.6V104.0H214.8V102.0H216.0V103.4H217.2V101.4H218.3V97.1H219.5V99.0H220.7V94.3H221.8V95.1H222.9V91.2H224.0V91.5H225.1V90.8H226.2V89.1H227.2V90.2H228.3V92.6H229.4V89.9H230.4V91.7H231.5V93.8H232.6V97.3H233.7V95.1H234.8V93.4H235.9V92.2H236.9V94.4H238.0V91.7H239.1V91.3H240.1V91.7H241.2V89.5H242.2V93.5H243.2V91.9H244.2V92.4H245.3V93.1H246.3V90.8H247.5V92.2H248.7V89.7H249.8V87.2H250.9V83.0H252.0V80.7H253.0V78.4H254.3V79.2H255.6V82.9H256.9V86.4H258.0V86.4H259.1V89.9H260.2V87.1H261.3V89.9H262.3V89.9H263.4V89.9H264.4V89.9H265.4V89.9H266.5V89.9H267.5V89.9H268.6V89.2H269.6V92.1H270.7V83.9H271.7V83.4H272.8V80.2H274.0V84.3H275.1V83.8H276.3V89.0H277.4V91.6H278.4V87.6H279.5V91.2H280.6V88.8H281.6V91.7H282.9V87.1H284.3V81.1H285.4V81.8H286.5V83.6H287.6V84.1H288.7V84.6H289.7V81.6H290.8V80.2H291.8V83.6H292.8V86.8H293.9V89.4H294.9V89.0H295.9V88.5H297.0V90.0H298.0V92.9H299.1V96.3H300.2V97.8H302.0V92.5H303.3V95.6H304.6V97.0H305.8V96.0H307.0V93.2H308.2V91.7H309.3V90.7H310.4V97.3H311.5V95.2H312.6V97.8H313.7V96.9H314.8V95.0H315.9V88.9H317.0V89.0H318.1V90.4H319.2V85.5H320.3V84.2H321.4V85.5H322.6V84.3H323.8V85.0H325.0V84.6H326.1V85.7H327.3V84.4H328.5V88.1H329.6V87.6H330.7V87.6H331.8V78.0H332.9V83.7H334.0V81.9H335.1V76.0H336.2V82.7H337.3V79.3H338.4V77.0H339.5V80.0H340.6V78.5H341.7V77.5H342.9V78.1H344.1V81.1H345.3V82.8H346.4V86.5H347.6V82.3H348.8V84.6H349.9V86.3H351.0V89.4H352.1V87.5H353.2V90.8H354.3V93.1H355.3V88.4H356.4V90.7H357.5V91.8H358.5V89.9H359.6V89.6H360.6V86.6H361.7V90.8H362.8V88.8H363.8V88.1H364.9V86.5H366.0V85.3H367.1V85.7H368.2V85.5H369.3V88.9H370.4V89.2H371.5V87.8H372.6V89.0H373.7V91.7H374.8V91.1H376.0V93.0H377.1V97.0H378.2V93.9H379.4V93.1H380.6V89.0H381.7V87.8H382.8V86.9H383.9V85.7H385.0V84.6H386.3V86.7H387.7V91.7H388.8V85.9H389.9V88.2H391.0V88.0H392.1V85.5H393.1V84.9H394.2V91.9H395.2V89.9H396.3V89.9H397.4V91.7H398.4V90.3H399.5V91.8H400.5V92.9H401.6V89.6H402.7V89.9H403.7V91.1H404.8V90.1H405.8V91.1H406.9V88.0H408.0V88.1H409.1V85.0H410.2V92.4H411.3V84.5H412.4V83.7H413.5V88.5H414.6V84.0H415.7V83.8H416.8V84.6H417.8V85.9H418.9V83.6H420.0V83.4H421.0V84.1H422.1V83.7H423.3V84.3H424.4V84.9H425.6V88.1H426.8V86.8H428.0V88.2H429.2V91.7H430.3V91.2H431.4V92.0H432.5V96.8H433.6V97.0H434.7V100.9H435.9V100.8H437.1V102.3H438.3V96.3H439.5V94.3H440.6V90.8H441.8V88.8H443.0V79.4H444.2V81.1H445.3V82.6H446.4V82.6H447.5V88.0H448.6V89.0H449.7V86.4H450.8V82.6H451.9V84.0H453.0V79.3H454.1V76.0H455.2V75.7H456.3V75.0H457.4V74.0H458.5V72.0H459.6V77.0H460.7V77.4H461.8V75.8H462.9V75.5H463.9V73.7H465.0V75.2H466.1V72.5H467.1V71.4H468.2V71.3H469.3V73.7H470.4V79.5H471.5V81.1H472.6V77.0H473.7V85.6H474.8V87.1H476.0V88.1H477.1V88.0H478.3V85.7H479.5V81.1H480.8V78.6H482.1V77.5H483.3V78.0H484.5V82.5H485.7V83.7H486.8V85.1H488.0V89.2H489.2V88.1H490.4V88.7H491.6V87.8H492.7V83.7H493.8V84.3H494.9V80.7H496.0V82.1H497.1V82.8H498.2V82.7H499.4V81.1H500.5V81.7H501.6V81.1H502.7V79.4H503.9V74.0H505.1V70.5H506.2V66.8H507.3V65.7H508.4V65.4H509.5V65.2H510.6V64.8H511.7V66.7H512.8V71.1H513.9V70.5H515.1V73.4H516.3V75.2H517.5V75.8H518.8V70.6H520.1V69.6H521.3V77.8H522.5V84.5H523.6V90.8H524.8V86.3H526.0V85.4H527.2V79.3H528.3V78.3H529.5V79.7H530.7V77.5H531.8V79.1H532.9V80.6H534.0V82.7H535.1V84.6H536.2V87.2H537.3V84.6H538.4V90.4H539.5V89.9H540.6V87.2H541.6V81.7H542.7V92.0H543.8V89.7H544.8V82.8H546.0V86.8H547.2V84.5H548.4V88.1H549.5V84.4H550.6V84.6H551.7V81.1H552.8V81.1H553.9V82.7H555.0V83.3H556.1V84.9H557.2V88.1H558.3V87.8H559.4V87.8H560.5V85.7H561.6V84.6H562.8V91.3H564.0V89.7H565.1V90.8H566.2V88.7H567.3V91.0H568.3V90.9H569.4V88.9H570.4V87.2H571.5V85.0H572.6V81.8H573.7V81.9H574.8V80.2H575.9V80.2H577.0V80.2H578.0V80.2H579.1V80.2H580.1V80.2H581.5V83.0H582.8V87.2H583.9V86.2H585.0V80.6H586.1V79.3H587.2V77.5H588.4V80.3H589.6V78.6H590.7V78.4H591.9V81.6H593.1V81.2H594.3V89.9H595.4V92.9H596.5V90.5H597.6V94.2H598.7V92.5H599.8V91.3H600.9V88.6H602.0V89.0H603.2V88.1H604.4V83.9H605.5V83.7H606.7V84.7H607.9V88.9H609.1V89.9H610.2V88.2H611.3V85.0H612.4V86.8H613.5V84.6H614.7V82.6H615.8V82.3H617.0V82.8H618.2V78.0H619.4V77.2H620.5V73.1H621.7V81.1H622.9V81.1H624.1V79.3H625.2V81.3H626.3V79.4H627.4V84.5H628.5V82.8H629.6V80.7H630.7V79.5H631.8V82.1H632.9V80.2H634.0V82.0H635.1V87.3H636.2V84.1H637.3V83.7H638.4V81.7H639.4V84.2H640.5V85.8H641.6V83.6H642.6V82.8H643.7V80.7H644.7V82.4H645.8V83.9H646.9V79.6H647.9V81.1H649.0V78.7H650.0V81.6H651.1V79.5H652.2V79.3H653.2V78.4H654.3V75.1H655.3V75.8H656.4V74.8H657.5V76.3H658.5V76.7H659.6V79.5H660.7V78.5H661.8V77.6H662.9V81.1H664.3V74.4H665.6V73.1H666.8V75.7H667.9V79.8H669.1V79.3H670.3V78.5H671.5V75.5H672.6V71.4H674.0V75.0H675.3V76.7H677.1V89.0H678.8V71.4H679.9V71.4H680.9V71.4H682.0V71.4H683.1V71.4H684.1V71.4H685.2V72.5H686.3V72.4H687.4V78.2H688.5V77.5H689.6V76.8H690.7V77.3H691.7V77.1H692.8V70.8H693.8V74.0H694.9V76.1H696.0V75.8H697.1V77.5H698.2V77.5H699.3V80.7H700.3V75.8H701.3V81.0H702.4V76.1H703.4V77.7H704.4V76.7H705.5V76.0H706.5V75.9H707.6V73.9H708.7V78.5H709.7V75.8H710.8V73.3H711.8V75.0H712.9V75.6H714.0V76.0H715.0V74.0H716.2V75.4H717.4V72.1H718.6V71.4H719.6V72.2H720.7V74.1H721.7V74.4H722.8V72.5H723.9V75.8H724.9V76.4H726.0V76.6H727.0V74.1H728.1V73.3H729.2V71.4H730.2V74.7H731.3V75.6H732.3V74.7H733.4V76.8H734.5V75.8H735.5V73.9H736.6V71.9H737.6V74.1H738.7V76.9H739.7V76.7H740.8V78.8H741.9V80.7H742.9V81.7H744.0V81.9H745.0V81.1H746.1V80.6H747.2V83.3H748.2V81.9H749.3V85.7H750.3V83.7H751.4V84.4H752.5V80.9H753.5V87.0H754.6V84.4H755.6V82.8H757.0V79.9H758.3V74.0H759.4V74.0H760.5V74.0H761.6V74.0H762.7V74.0H763.8V74.0H764.9V76.7H766.0V76.9H767.1V79.3H768.3V82.2H769.5V82.7H770.7V84.6H771.8V82.7H772.9V83.0H774.0V82.5H775.1V82.8H776.2V83.2H777.3V79.7H778.4V81.0H779.5V79.3H780.7V77.9H781.8V77.7H783.0V73.1H784.2V76.0H785.4V81.6H786.5V82.8H787.7V84.5H788.8V88.1H790.1V84.4H791.4V83.4H792.7V79.3H793.9V80.0H795.1V82.4H796.3V86.4H797.4V84.6H798.6V86.7H799.8V88.1H800.9V88.7H802.0V82.8H803.1V83.6H804.2V81.1H805.3V77.2H806.3V83.6H807.4V81.7H808.4V83.9H809.5V82.8H810.6V80.2H811.7V81.2H812.8V81.3H813.9V80.2H815.0V77.9H816.0V82.8H817.1V79.8H818.2V78.5H819.2V81.1H820.3V77.8H821.4V77.9H822.5V73.7H823.6V74.0H824.7V76.7H825.8V75.6H826.9V78.6H828.0V77.5H829.1V77.2H830.2V80.8H831.2V73.9H832.3V74.3H833.3V74.0H834.4V76.4H835.5V77.2H836.5V76.9H837.6V75.9H838.6V75.8H839.7V72.5H840.9V75.6H842.0V74.6H843.1V72.2H844.1V78.1H845.2V71.7H846.2V71.2H847.3V72.5H848.4V69.6H849.5V73.1H850.6V73.1H851.7V75.2H852.8V74.0H853.9V74.3H855.0V74.6H856.1V75.4H857.2V79.3H858.4V79.7H859.5V79.7H860.7V81.1H861.8V80.4H862.9V77.7H864.0V74.7H865.1V74.0H866.2V73.2H867.3V77.1H868.4V76.3H869.5V76.7H870.6V78.4H871.7V78.5H872.7V77.0H873.8V78.8H874.8V78.4H875.9V78.4H876.9V78.1H877.9V73.2H879.0V73.3H880.0V73.3H881.0V73.1H882.1V72.3H883.1V73.1H884.2V80.6H885.3V79.0H886.3V77.5H887.4V77.5H888.4V77.5H889.5V77.5H890.6V77.5H891.6V77.5" fill="none" stroke="#2d8dbe" stroke-width="2" stroke-linejoin="miter"/><path d="M0.8 204.5H1.9V204.5H2.9V204.5H4.0V204.5H5.1V204.5H6.1V204.5H7.2V204.5H8.2V204.5H9.3V204.5H10.4V204.5H11.4V204.5H12.5V204.2H13.5V201.7H14.6V198.7H15.7V200.0H16.7V197.6H17.8V198.2H18.9V197.8H20.0V197.0H21.1V196.7H22.2V197.2H23.3V197.0H24.3V195.4H25.4V198.4H26.4V197.6H27.5V197.3H28.5V196.2H29.5V194.7H30.6V194.4H31.6V192.5H32.6V192.3H33.7V193.7H34.7V191.0H35.8V186.4H36.9V189.9H37.9V187.0H39.0V188.3H40.1V183.6H41.2V185.4H42.3V185.3H43.4V184.0H44.5V182.7H45.6V180.7H46.7V176.4H47.8V174.2H49.0V172.0H50.1V178.1H51.2V177.3H52.3V175.8H53.4V174.3H54.5V178.4H55.6V175.5H56.7V176.0H57.8V172.2H58.9V167.5H60.0V167.6H61.1V167.2H62.2V168.2H63.3V166.7H64.4V165.0H65.5V168.9H66.6V168.2H67.7V171.1H68.8V174.7H69.9V175.7H71.0V174.4H72.1V171.2H73.2V172.0H74.3V173.3H75.4V169.9H76.5V166.2H77.7V167.6H79.0V164.0H80.3V157.9H81.6V161.1H82.9V165.8H84.1V163.3H85.2V163.1H86.3V160.7H87.4V158.8H88.5V160.1H89.7V157.0H90.9V156.1H92.2V150.1H93.5V147.3H94.6V148.7H95.8V149.6H96.9V154.6H98.0V156.1H99.1V153.9H100.2V151.6H101.3V148.9H102.4V149.9H103.7V151.8H105.0V156.1H106.2V154.3H107.4V152.7H108.6V149.9H109.7V153.1H110.9V155.4H112.1V155.2H113.3V153.2H114.4V149.0H115.6V146.4H116.8V146.7H118.0V140.2H119.2V140.2H120.3V140.1H121.4V138.3H122.5V139.0H123.6V139.3H124.7V138.0H125.9V138.3H127.1V140.2H128.3V145.4H129.5V150.3H130.6V155.2H132.0V151.0H133.3V151.7H135.0V156.1H136.2V146.6H137.4V147.0H138.6V144.6H139.7V143.2H140.8V142.3H141.9V144.1H143.0V142.9H144.1V142.9H145.2V142.9H146.3V142.9H147.4V142.9H148.6V130.0H149.8V124.6H150.9V118.2H152.3V125.5H153.6V130.5H154.8V130.5H155.9V124.6H157.1V125.2H158.3V125.4H159.5V127.8H160.7V132.3H161.8V128.6H163.0V127.4H164.2V125.2H165.4V127.3H166.5V124.4H167.7V127.0H168.7V120.3H169.7V116.7H170.7V114.6H171.8V121.4H172.8V127.4H173.9V130.5H175.2V131.0H176.5V127.0H177.7V135.8H178.8V137.6H179.8V133.9H180.8V130.7H181.8V125.2H182.9V126.3H184.1V125.6H185.2V120.9H186.3V122.6H187.3V125.3H188.4V125.8H189.4V121.6H190.5V126.1H191.6V124.3H192.6V123.2H193.7V127.1H194.7V127.0H195.8V131.9H196.9V131.4H198.0V132.3H199.1V130.0H200.2V129.5H201.3V132.3H202.5V135.8H203.5V133.0H204.5V131.5H205.6V123.6H206.6V127.0H207.7V126.4H208.9V123.1H210.1V120.8H211.3V120.6H212.5V122.1H213.6V126.1H214.8V123.0H216.0V124.2H217.2V124.3H218.3V121.7H219.5V119.8H220.7V118.2H222.0V113.9H223.3V109.3H224.5V110.3H225.7V106.0H226.9V104.9H228.0V108.9H229.1V108.8H230.2V109.0H231.3V111.1H232.4V109.1H233.5V106.9H234.6V110.4H235.7V107.6H236.8V110.8H237.8V113.5H238.9V118.2H240.2V115.9H241.5V115.7H242.8V111.1H243.9V111.1H245.0V111.1H246.1V111.1H247.2V111.1H248.4V107.1H249.5V109.8H250.7V103.1H251.8V106.6H252.9V106.8H254.0V107.0H255.1V111.1H256.3V110.9H257.5V113.3H258.7V112.0H259.8V112.1H260.9V107.2H262.0V116.3H263.1V115.5H264.2V120.3H265.3V113.7H266.4V112.2H267.5V112.9H268.6V110.9H269.6V111.5H270.7V113.4H271.7V116.2H272.8V114.6H274.0V113.2H275.1V116.8H276.3V117.3H277.4V115.6H278.4V114.6H279.5V114.5H280.6V114.1H281.6V114.6H282.8V121.2H284.0V118.6H285.2V121.7H286.3V121.9H287.4V117.6H288.5V119.2H289.6V115.5H290.7V118.6H291.9V119.5H293.1V123.5H294.3V121.2H295.5V121.2H296.6V117.3H297.8V117.4H299.0V119.5H300.2V123.5H302.0V117.3H303.1V114.6H304.1V118.0H305.2V117.7H306.2V116.0H307.3V116.4H308.4V117.5H309.4V118.7H310.5V118.2H311.5V117.4H312.6V118.2H313.7V118.2H314.7V118.2H315.8V118.2H316.8V118.2H317.9V118.2H319.0V123.2H320.0V124.4H321.1V126.1H322.1V123.1H323.1V120.9H324.1V114.6H325.2V117.4H326.3V118.1H327.4V118.7H328.5V122.6H329.6V119.7H330.7V111.5H331.8V118.9H332.9V114.6H334.7V106.7H335.8V112.2H337.0V115.2H338.2V117.3H339.3V114.7H340.4V115.7H341.5V114.4H342.6V111.1H343.7V107.8H344.8V108.4H345.9V105.6H347.0V104.9H348.1V102.7H349.2V102.6H350.3V102.7H351.4V103.1H352.6V102.4H353.8V106.3H355.0V104.0H356.2V107.4H357.3V111.8H358.5V114.6H359.7V109.9H360.9V108.8H362.0V106.7H363.2V110.1H364.4V112.1H365.6V115.5H366.7V111.4H367.8V104.9H368.9V107.6H370.0V107.6H371.2V106.5H372.3V112.1H373.5V112.0H374.6V113.6H375.7V112.8H376.8V114.7H377.9V117.3H379.0V117.3H380.1V117.3H381.2V117.3H382.4V117.3H383.7V110.8H385.0V107.6H386.2V110.9H387.4V114.1H388.5V116.4H389.7V119.8H390.9V119.1H392.1V119.9H393.5V130.5H394.8V129.8H396.1V122.6H397.4V121.7H398.5V121.3H399.7V119.5H400.9V117.3H402.1V120.4H403.3V118.8H404.4V119.9H405.6V122.7H406.8V120.8H408.0V124.3H409.1V125.5H410.2V124.4H411.3V121.1H412.4V122.6H413.6V119.3H414.7V118.4H415.9V112.9H417.1V111.1H418.3V110.6H419.4V108.4H420.6V109.7H421.8V103.9H423.0V104.9H424.1V103.9H425.3V107.4H426.5V109.3H427.8V113.3H429.2V118.2H430.3V118.7H431.4V115.0H432.5V115.5H433.6V114.6H434.7V114.5H435.8V111.9H436.9V114.6H438.0V111.1H439.0V105.4H440.1V113.3H441.2V111.6H442.2V115.4H443.3V112.0H444.3V112.0H445.4V112.0H446.5V112.0H447.5V112.0H448.6V112.0H449.6V109.1H450.7V110.0H451.8V108.7H452.8V109.9H453.9V110.2H455.1V107.6H456.2V107.3H457.4V104.0H458.6V107.5H459.8V110.4H460.9V112.9H462.0V117.8H463.1V115.3H464.3V121.0H465.4V122.6H466.5V122.1H467.7V119.3H468.9V114.6H470.0V115.2H471.1V114.0H472.2V115.9H473.3V115.5H474.4V114.5H475.4V113.4H476.5V112.1H477.5V108.1H478.6V109.3H479.7V110.3H480.8V113.1H481.9V111.2H483.0V112.0H484.2V110.1H485.4V114.8H486.5V105.8H487.7V105.8H488.8V105.8H489.9V105.8H491.0V105.8H492.1V109.2H493.3V109.2H494.5V112.9H495.6V111.5H496.6V114.8H497.7V115.2H498.7V116.8H499.8V114.6H500.9V115.7H501.9V117.3H503.0V114.1H504.0V118.7H505.1V117.3H506.2V114.9H507.2V118.0H508.3V114.6H509.3V115.3H510.4V114.6H511.4V112.4H512.4V113.2H513.5V112.8H514.5V117.4H515.5V113.0H516.6V115.5H517.6V117.7H518.7V117.5H519.7V118.3H520.8V118.9H521.9V117.3H523.6V111.1H524.8V113.9H526.0V116.4H527.2V122.6H528.3V118.9H529.4V116.1H530.5V115.4H531.6V112.9H532.6V115.7H533.7V111.6H534.8V115.0H535.8V112.4H536.9V114.6H538.0V112.8H539.1V112.1H540.2V110.6H541.3V108.4H542.6V113.7H543.9V122.6H545.0V118.3H546.2V117.5H547.3V114.7H548.4V115.5H549.5V115.3H550.7V113.5H551.9V111.1H553.0V112.8H554.1V112.1H555.2V114.1H556.3V117.3H557.4V120.9H558.5V113.3H559.6V115.2H560.7V112.0H561.8V116.1H562.9V115.1H564.0V115.1H565.1V117.3H566.2V116.0H567.3V121.5H568.3V116.9H569.4V114.2H570.4V114.6H571.5V117.0H572.6V115.6H573.6V118.4H574.7V116.5H575.7V117.3H576.8V117.3H577.8V117.3H578.9V117.3H580.0V117.3H581.0V117.3H582.1V120.2H583.1V118.1H584.2V120.5H585.3V119.7H586.3V122.6H587.4V122.7H588.5V117.1H589.6V117.3H590.7V112.9H591.8V110.7H592.8V113.8H593.8V113.2H594.9V112.3H595.9V111.8H596.9V112.0H597.9V112.0H599.0V112.0H600.0V112.0H601.0V112.0H602.0V112.0H603.1V113.9H604.1V113.8H605.2V113.9H606.2V113.5H607.3V111.1H608.4V112.4H609.5V115.9H610.6V110.8H611.7V108.4H612.9V106.2H614.1V100.9H615.2V97.8H616.3V99.2H617.5V95.3H618.6V95.7H619.7V97.0H620.7V96.7H621.8V99.3H622.8V98.2H623.9V91.4H625.0V97.8H626.0V98.3H627.1V98.8H628.1V99.5H629.2V103.0H630.3V101.4H631.3V100.7H632.4V98.3H633.4V98.7H634.5V100.3H635.6V97.0H636.7V92.1H637.8V91.4H638.9V96.4H640.0V94.3H641.1V93.6H642.3V85.6H643.5V91.7H644.6V92.1H645.7V95.5H646.8V92.7H647.9V96.1H649.0V97.9H650.0V95.8H651.1V96.8H652.2V101.0H653.2V101.4H654.3V101.3H655.3V100.1H656.4V103.5H657.5V103.2H658.5V102.3H659.6V103.3H660.6V102.0H661.7V101.0H662.8V102.6H663.8V99.6H664.9V100.5H665.9V98.9H667.0V100.3H668.0V99.9H669.1V103.1H670.2V105.3H671.3V104.7H672.4V102.4H673.5V104.0H674.7V104.4H675.9V106.2H677.1V108.4H678.2V109.3H679.3V111.8H680.4V108.0H681.5V110.2H682.6V110.3H683.7V109.2H684.8V107.2H685.9V106.7H687.1V109.6H688.3V114.0H689.5V116.0H690.7V116.4H691.7V114.9H692.8V109.4H693.8V107.6H695.0V103.9H696.2V105.6H697.4V102.3H698.5V106.1H699.7V106.3H700.9V108.4H702.1V105.9H703.3V102.0H704.4V94.3H705.6V97.3H706.8V96.1H708.0V99.6H709.1V97.4H710.2V102.1H711.3V98.5H712.4V98.7H713.7V102.5H715.0V106.7H716.1V108.6H717.1V109.9H718.2V109.1H719.3V110.0H720.3V109.3H721.4V106.6H722.5V108.2H723.6V104.5H724.7V104.0H725.8V105.0H726.9V104.4H727.9V102.7H729.0V105.4H730.0V104.9H731.1V104.6H732.2V102.1H733.2V103.8H734.3V103.6H735.3V103.1H736.4V101.3H737.5V104.8H738.5V103.1H739.6V107.4H740.6V105.8H741.7V104.8H742.8V104.9H743.9V105.1H745.0V106.7H746.1V107.5H747.2V109.0H748.2V110.7H749.3V107.2H750.3V110.2H751.4V110.2H752.4V110.2H753.4V110.2H754.4V110.2H755.4V110.2H756.4V110.2H757.4V110.2H758.7V105.3H760.1V103.1H761.1V103.1H762.1V103.1H763.1V103.1H764.2V103.1H765.2V103.1H766.2V103.1H767.3V103.1H768.4V103.1H769.4V103.1H770.5V103.1H771.5V103.1H772.6V106.3H773.7V103.3H774.8V103.3H776.0V105.8H777.1V105.4H778.3V106.3H779.5V111.6H780.7V111.1H781.7V107.9H782.8V107.4H783.8V104.9H784.8V104.0H785.8V106.1H786.8V105.9H787.9V101.6H788.9V105.1H789.9V104.4H791.0V102.3H792.0V102.3H793.0V102.3H794.0V102.3H795.0V102.3H796.0V102.3H797.0V102.3H798.0V102.3H799.2V102.4H800.4V97.8H801.6V98.7H802.6V96.5H803.7V99.5H804.7V99.2H805.8V104.2H806.9V97.8H808.0V98.3H809.1V98.3H810.2V101.5H811.3V100.5H812.3V98.3H813.4V98.6H814.5V97.3H815.5V96.1H816.6V97.8H817.7V100.6H818.9V100.8H820.1V105.8H821.2V105.8H822.2V105.8H823.3V105.8H824.3V105.8H825.4V105.8H826.5V106.1H827.5V108.4H828.6V105.0H829.6V106.0H830.7V106.7H831.8V106.2H832.9V105.1H834.0V106.6H835.1V104.0H836.2V100.2H837.3V102.3H838.4V100.0H839.5V98.7H840.6V101.3H841.6V100.8H842.7V102.8H843.8V101.3H844.8V101.4H845.9V103.0H846.9V98.8H848.0V98.6H849.1V99.5H850.1V99.6H851.2V99.5H852.2V94.2H853.3V99.8H854.4V100.9H855.4V98.7H856.5V100.1H857.6V103.1H858.7V98.7H859.8V104.0H860.9V105.2H862.0V103.9H863.0V102.0H864.1V98.8H865.1V98.7H866.2V96.5H867.3V97.8H868.3V94.9H869.4V97.6H870.4V95.2H871.5V97.5H872.6V93.2H873.7V95.7H874.8V94.3H875.9V94.8H876.9V93.8H877.9V95.6H879.0V93.9H880.0V92.8H881.0V92.5H882.1V93.5H883.1V93.2H884.2V93.8H885.3V93.9H886.3V95.2H887.4V94.5H888.4V93.5H889.5V92.1H890.6V92.1H891.6V93.4" fill="none" stroke="#55da62" stroke-width="2" stroke-linejoin="miter"/></svg>
<div class="abs lg" style="left:1016px;top:993.8px;background:#ac2820"></div><div class="abs lg" style="left:1016px;top:1025.8px;background:#2d8dbe"></div><div class="abs lg" style="left:1016px;top:1057.8px;background:#55da62"></div>
<div class="abs" style="left:88px;top:1117px;width:0;height:0;transform:rotate(-90deg)"><span class="t" style="left:0;top:-7.3px;letter-spacing:0px">pct</span></div>

<!-- plot: wealth gap -->
<div class="abs pw" style="left:1298px;top:960.5px;width:558px;height:275px"><div class="in"></div></div>
<svg class="abs" style="left:1380px;top:996px;background:#fff" width="306" height="208" viewBox="0 0 306 208" shape-rendering="crispEdges"><path d="M-0.1 19.6H8.1V21.4H17.0V23.9H30.9V26.5H51.3V28.5H76.7V30.3H103.4V32.1H135.2V34.6H177.1V36.6H219.1V38.7H253.9" fill="none" stroke="#345da9" stroke-width="2"/><path d="M-0.1 158.7H3.0V157.4H9.3V155.6H23.3V153.6H39.3V151.8H62.7V149.8H86.9V147.7H117.4V145.5H151.7V143.4H197.5V141.6H243.2V139.6H249.6V138.8H253.9" fill="none" stroke="#d73229" stroke-width="2"/></svg>
<div class="abs lg" style="left:1694.2px;top:995.8px;background:#d73229"></div><div class="abs lg" style="left:1694.2px;top:1027.8px;background:#345da9"></div>

<!-- monitors -->
<div class="abs pw" style="left:1878px;top:1016px;width:292px;height:89.5px"><div class="in"></div></div>
<div class="abs" style="left:1888px;top:1054px;width:268px;height:40px;background:#fff"></div>
<div class="abs pw" style="left:1880px;top:1132.5px;width:290px;height:89px"><div class="in"></div></div>
<div class="abs" style="left:1890px;top:1169.5px;width:266px;height:40.5px;background:#fff"></div>

<!-- scrollbars -->
<div class="abs" style="left:2520px;top:204px;width:12px;height:1036px;background:#fafafa;border-left:2px solid #ebebeb"></div>
<div class="abs" style="left:2528px;top:207px;width:12px;height:1001px;border-radius:6px;background:#c1c1c1"></div>
<div class="abs" style="left:2px;top:1240px;width:2518px;height:30px;background:#fafafa;border-top:2px solid #e9e9e9;border-bottom:1.5px solid #ededed"></div>
<div class="abs" style="left:2520px;top:1240px;width:12px;height:30px;background:#fafafa"></div>
<div class="abs" style="left:4px;top:1248px;width:2399px;height:16px;border-radius:8px;background:#c2c2c2"></div>
<div class="abs" style="left:2px;top:1270px;width:2530px;height:2px;background:#b2b2b2"></div>
<div class="abs" style="left:2px;top:1272px;width:2530px;height:2px;background:#f0f0f0"></div>

<!-- text -->
<div id="txt" style="position:absolute;left:0;top:0;width:2532px;height:1274px;will-change:transform">
<span class="t" style="left:1118.8px;top:37.2px;font-size:25.5px;letter-spacing:-0.28px;">Interface</span>
<span class="t" style="left:1275.0px;top:37.2px;font-size:25.5px;letter-spacing:1.00px;">Info</span>
<span class="t" style="left:1371.5px;top:37.2px;font-size:25.5px;">Code</span>
<span class="t" style="left:31.8px;top:148.7px;font-size:21px;letter-spacing:-0.13px;color:#8c8c8c;">Edit</span>
<span class="t" style="left:123.6px;top:148.7px;font-size:21px;letter-spacing:-0.48px;color:#8c8c8c;">Delete</span>
<span class="t" style="left:242.3px;top:148.7px;font-size:21px;letter-spacing:1.60px;">Add</span>
<span class="t" style="left:379.8px;top:126.7px;font-size:21px;letter-spacing:-0.04px;">Button</span>
<span class="t" style="left:810.5px;top:86.5px;font-size:21px;letter-spacing:-0.20px;">faster</span>
<span class="t" style="left:693.5px;top:172.7px;font-size:21px;letter-spacing:0.28px;">ticks: 926</span>
<span class="t" style="left:1011.4px;top:102.5px;font-size:21px;letter-spacing:-0.22px;">view updates</span>
<span class="t" style="left:976.0px;top:148.7px;font-size:21px;letter-spacing:0.11px;">on ticks</span>
<span class="t" style="left:1245.0px;top:128.7px;font-size:21px;letter-spacing:0.31px;">Settings…</span>
<span class="t" style="left:444.5px;top:666.9px;font-size:20.5px;letter-spacing:0.06px;font-weight:bold;">top-20pct-stability</span>
<span class="t" style="left:51.4px;top:702.2px;font-size:21px;letter-spacing:1.20px;">100</span>
<span class="t" style="left:45.3px;top:908.2px;font-size:21px;letter-spacing:0.83px;">21.9</span>
<span class="t" style="left:96.0px;top:935.7px;font-size:21px;">0</span>
<span class="t" style="left:512.0px;top:935.7px;font-size:21px;letter-spacing:-0.07px;">ticks</span>
<span class="t" style="left:962.0px;top:935.7px;font-size:21px;letter-spacing:1.00px;">895</span>
<span class="t" style="left:1046.4px;top:695.9px;font-size:21px;letter-spacing:0.06px;">stay top 20</span>
<span class="t" style="left:1046.4px;top:727.9px;font-size:21px;letter-spacing:0.06px;">stay top 40</span>
<span class="t" style="left:1046.4px;top:759.9px;font-size:21px;letter-spacing:0.06px;">stay top 50</span>
<span class="t" style="left:1462.3px;top:660.6px;font-size:20.5px;letter-spacing:-0.42px;font-weight:bold;">wealth distribution</span>
<span class="t" style="left:1183.8px;top:695.7px;font-size:21px;letter-spacing:1.90px;">40</span>
<span class="t" style="left:1198.0px;top:905.7px;font-size:21px;">0</span>
<span class="t" style="left:1214.6px;top:933.7px;font-size:21px;">0</span>
<span class="t" style="left:1873.5px;top:933.7px;font-size:21px;letter-spacing:1.25px;">500</span>
<span class="t" style="left:1328.7px;top:706.7px;font-size:21px;letter-spacing:0.16px;">Total wealth = $50,000</span>
<span class="t" style="left:1972.1px;top:680.4px;font-size:21px;letter-spacing:1.60px;">On</span>
<span class="t" style="left:1972.1px;top:702.0px;font-size:21px;letter-spacing:1.35px;">Off</span>
<span class="t" style="left:2023.9px;top:688.3px;font-size:21px;letter-spacing:-0.04px;">track?</span>
<span class="t" style="left:2206.4px;top:700.5px;font-size:21px;letter-spacing:0.20px;">setup</span>
<span class="t" style="left:2407.5px;top:700.5px;font-size:21px;letter-spacing:2.20px;color:#bcbce6;">go</span>
<span class="t" style="left:1948.6px;top:808.6px;font-size:21px;letter-spacing:0.23px;">I have explored 4 questions in this model:</span>
<span class="t" style="left:1948.6px;top:836.4px;font-size:21px;letter-spacing:0.03px;">1. what is the wealth distribution?</span>
<span class="t" style="left:1948.6px;top:864.3px;font-size:21px;letter-spacing:-0.12px;">2. how big can the wealth gap be?</span>
<span class="t" style="left:1948.6px;top:892.2px;font-size:21px;letter-spacing:0.04px;">3. How likely the rich stay in rich?</span>
<span class="t" style="left:1949.6px;top:920.0px;font-size:21px;letter-spacing:0.06px;">4. How likely the poor ascend to the rich?</span>
<span class="t" style="left:420.5px;top:978.5px;font-size:20.5px;letter-spacing:0.10px;font-weight:bold;">bottom-20pct-stability</span>
<span class="t" style="left:45.5px;top:1013.9px;font-size:21px;letter-spacing:0.50px;">71.5</span>
<span class="t" style="left:80.0px;top:1186.3px;font-size:21px;">0</span>
<span class="t" style="left:96.5px;top:1214.2px;font-size:21px;">0</span>
<span class="t" style="left:508.4px;top:1214.2px;font-size:21px;letter-spacing:-0.30px;">ticks</span>
<span class="t" style="left:962.2px;top:1214.2px;font-size:21px;letter-spacing:0.85px;">895</span>
<span class="t" style="left:1045.6px;top:1008.7px;font-size:21px;letter-spacing:0.19px;">above bottom 20</span>
<span class="t" style="left:1045.6px;top:1040.7px;font-size:21px;letter-spacing:0.19px;">above bottom 40</span>
<span class="t" style="left:1045.6px;top:1072.7px;font-size:21px;letter-spacing:0.19px;">above bottom 50</span>
<span class="t" style="left:1472.0px;top:980.9px;font-size:20.5px;letter-spacing:-0.94px;font-weight:bold;">wealth gap</span>
<span class="t" style="left:1305.7px;top:1016.4px;font-size:21px;letter-spacing:0.73px;">43800</span>
<span class="t" style="left:1361.6px;top:1190.1px;font-size:21px;">0</span>
<span class="t" style="left:1377.7px;top:1218.6px;font-size:21px;">0</span>
<span class="t" style="left:1625.8px;top:1218.6px;font-size:21px;letter-spacing:0.90px;">1120</span>
<span class="t" style="left:1724.0px;top:1010.8px;font-size:21px;letter-spacing:-0.43px;">top 20%</span>
<span class="t" style="left:1723.0px;top:1042.4px;font-size:21px;letter-spacing:-0.17px;">bottom 80%</span>
<span class="t" style="left:1887.4px;top:1038.2px;font-size:21px;letter-spacing:-0.21px;">wealth of top 20%</span>
<span class="t" style="left:1897.8px;top:1074.1px;font-size:21px;letter-spacing:0.73px;">14256</span>
<span class="t" style="left:1889.5px;top:1154.2px;font-size:21px;letter-spacing:-0.14px;">wealth of bottom 80%</span>
<span class="t" style="left:1899.0px;top:1190.0px;font-size:21px;letter-spacing:0.82px;">35744</span>
</div>
</body></html>
